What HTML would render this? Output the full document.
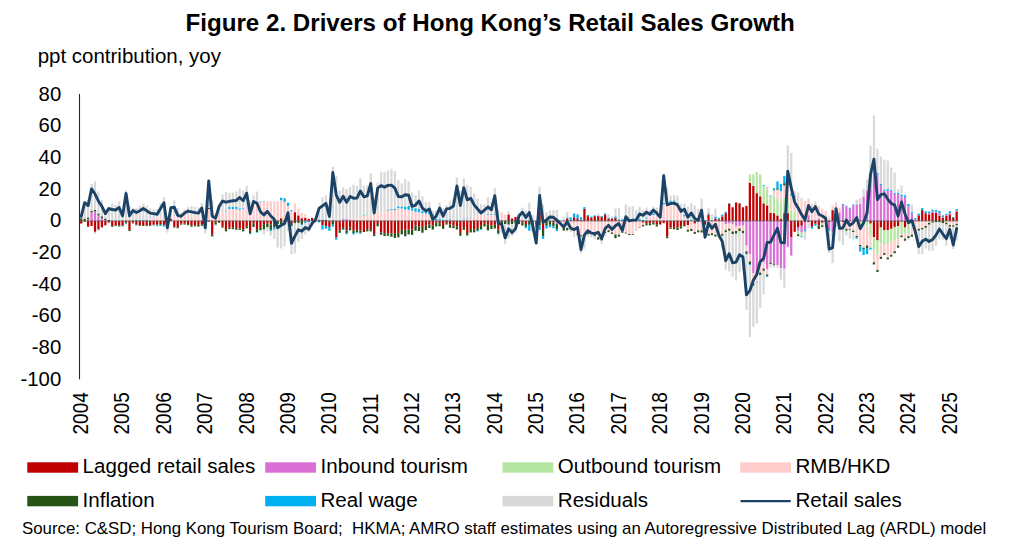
<!DOCTYPE html>
<html><head><meta charset="utf-8"><title>Figure 2</title>
<style>html,body{margin:0;padding:0;background:#fff}svg{display:block}</style></head>
<body>
<svg width="1024" height="549" viewBox="0 0 1024 549" font-family="'Liberation Sans', sans-serif">
<rect width="1024" height="549" fill="#fff"/>
<text transform="translate(490.20,31.30) scale(1.032,1)" font-size="23.4" text-anchor="middle" font-weight="bold" fill="#000">Figure 2. Drivers of Hong Kong’s Retail Sales Growth</text>
<text transform="translate(37.70,63.30) scale(1.056,1)" font-size="19.4" text-anchor="start" font-weight="normal" fill="#000">ppt contribution, yoy</text>
<text transform="translate(61.20,100.62) scale(1.048,1)" font-size="19.4" text-anchor="end" font-weight="normal" fill="#000">80</text>
<text transform="translate(61.20,132.32) scale(1.048,1)" font-size="19.4" text-anchor="end" font-weight="normal" fill="#000">60</text>
<text transform="translate(61.20,164.01) scale(1.048,1)" font-size="19.4" text-anchor="end" font-weight="normal" fill="#000">40</text>
<text transform="translate(61.20,195.71) scale(1.048,1)" font-size="19.4" text-anchor="end" font-weight="normal" fill="#000">20</text>
<text transform="translate(61.20,227.40) scale(1.048,1)" font-size="19.4" text-anchor="end" font-weight="normal" fill="#000">0</text>
<text transform="translate(61.20,259.09) scale(1.048,1)" font-size="19.4" text-anchor="end" font-weight="normal" fill="#000">-20</text>
<text transform="translate(61.20,290.79) scale(1.048,1)" font-size="19.4" text-anchor="end" font-weight="normal" fill="#000">-40</text>
<text transform="translate(61.20,322.48) scale(1.048,1)" font-size="19.4" text-anchor="end" font-weight="normal" fill="#000">-60</text>
<text transform="translate(61.20,354.18) scale(1.048,1)" font-size="19.4" text-anchor="end" font-weight="normal" fill="#000">-80</text>
<text transform="translate(61.20,385.87) scale(1.048,1)" font-size="19.4" text-anchor="end" font-weight="normal" fill="#000">-100</text>
<g shape-rendering="auto"><rect x="80.10" y="220.90" width="2.25" height="2.69" fill="#C00000"/><rect x="80.10" y="218.21" width="2.25" height="2.69" fill="#275317"/><rect x="80.10" y="213.77" width="2.25" height="4.44" fill="#D9D9D9"/><rect x="83.55" y="220.90" width="2.25" height="0.79" fill="#C00000"/><rect x="83.55" y="218.68" width="2.25" height="2.22" fill="#275317"/><rect x="83.55" y="201.88" width="2.25" height="16.80" fill="#D9D9D9"/><rect x="86.99" y="220.90" width="2.25" height="5.86" fill="#C00000"/><rect x="86.99" y="219.32" width="2.25" height="1.58" fill="#DA70D6"/><rect x="86.99" y="217.41" width="2.25" height="1.90" fill="#275317"/><rect x="86.99" y="199.67" width="2.25" height="17.75" fill="#D9D9D9"/><rect x="90.44" y="220.90" width="2.25" height="5.07" fill="#C00000"/><rect x="90.44" y="212.18" width="2.25" height="8.72" fill="#DA70D6"/><rect x="90.44" y="210.76" width="2.25" height="1.43" fill="#275317"/><rect x="90.44" y="183.82" width="2.25" height="26.94" fill="#D9D9D9"/><rect x="93.89" y="220.90" width="2.25" height="10.93" fill="#C00000"/><rect x="93.89" y="211.39" width="2.25" height="9.51" fill="#DA70D6"/><rect x="93.89" y="231.83" width="2.25" height="1.74" fill="#B4E5A2"/><rect x="93.89" y="209.97" width="2.25" height="1.43" fill="#275317"/><rect x="93.89" y="181.28" width="2.25" height="28.68" fill="#D9D9D9"/><rect x="97.33" y="220.90" width="2.25" height="8.72" fill="#C00000"/><rect x="97.33" y="215.35" width="2.25" height="5.55" fill="#DA70D6"/><rect x="97.33" y="229.62" width="2.25" height="1.11" fill="#B4E5A2"/><rect x="97.33" y="213.45" width="2.25" height="1.90" fill="#275317"/><rect x="97.33" y="191.42" width="2.25" height="22.03" fill="#D9D9D9"/><rect x="100.78" y="220.90" width="2.25" height="6.50" fill="#C00000"/><rect x="100.78" y="218.05" width="2.25" height="2.85" fill="#DA70D6"/><rect x="100.78" y="216.30" width="2.25" height="1.74" fill="#275317"/><rect x="100.78" y="199.82" width="2.25" height="16.48" fill="#D9D9D9"/><rect x="104.22" y="220.90" width="2.25" height="4.44" fill="#C00000"/><rect x="104.22" y="220.11" width="2.25" height="0.79" fill="#DA70D6"/><rect x="104.22" y="218.52" width="2.25" height="1.58" fill="#275317"/><rect x="104.22" y="209.17" width="2.25" height="9.35" fill="#D9D9D9"/><rect x="107.67" y="220.90" width="2.25" height="1.74" fill="#C00000"/><rect x="107.67" y="219.95" width="2.25" height="0.95" fill="#275317"/><rect x="107.67" y="206.80" width="2.25" height="13.15" fill="#D9D9D9"/><rect x="111.12" y="220.90" width="2.25" height="5.07" fill="#C00000"/><rect x="111.12" y="225.97" width="2.25" height="0.79" fill="#275317"/><rect x="111.12" y="203.63" width="2.25" height="17.27" fill="#D9D9D9"/><rect x="114.56" y="220.90" width="2.25" height="4.44" fill="#C00000"/><rect x="114.56" y="225.34" width="2.25" height="0.79" fill="#275317"/><rect x="114.56" y="204.74" width="2.25" height="16.16" fill="#D9D9D9"/><rect x="118.01" y="220.90" width="2.25" height="4.60" fill="#C00000"/><rect x="118.01" y="225.50" width="2.25" height="0.79" fill="#275317"/><rect x="118.01" y="226.29" width="2.25" height="0.63" fill="#00B0F0"/><rect x="118.01" y="201.41" width="2.25" height="19.49" fill="#D9D9D9"/><rect x="121.46" y="220.90" width="2.25" height="4.60" fill="#C00000"/><rect x="121.46" y="225.50" width="2.25" height="0.79" fill="#275317"/><rect x="121.46" y="210.44" width="2.25" height="10.46" fill="#D9D9D9"/><rect x="124.91" y="220.90" width="2.25" height="1.43" fill="#C00000"/><rect x="124.91" y="222.33" width="2.25" height="0.79" fill="#275317"/><rect x="124.91" y="223.12" width="2.25" height="0.79" fill="#00B0F0"/><rect x="124.91" y="190.47" width="2.25" height="30.43" fill="#D9D9D9"/><rect x="128.35" y="220.90" width="2.25" height="9.03" fill="#C00000"/><rect x="128.35" y="229.93" width="2.25" height="1.11" fill="#275317"/><rect x="128.35" y="205.69" width="2.25" height="15.21" fill="#D9D9D9"/><rect x="131.80" y="220.90" width="2.25" height="1.74" fill="#C00000"/><rect x="131.80" y="222.64" width="2.25" height="0.79" fill="#275317"/><rect x="131.80" y="207.91" width="2.25" height="12.99" fill="#D9D9D9"/><rect x="135.25" y="220.90" width="2.25" height="3.64" fill="#C00000"/><rect x="135.25" y="224.54" width="2.25" height="0.79" fill="#275317"/><rect x="135.25" y="220.11" width="2.25" height="0.79" fill="#00B0F0"/><rect x="135.25" y="208.06" width="2.25" height="12.04" fill="#D9D9D9"/><rect x="138.69" y="220.90" width="2.25" height="4.12" fill="#C00000"/><rect x="138.69" y="225.02" width="2.25" height="0.79" fill="#275317"/><rect x="138.69" y="220.11" width="2.25" height="0.79" fill="#00B0F0"/><rect x="138.69" y="205.85" width="2.25" height="14.26" fill="#D9D9D9"/><rect x="142.14" y="220.90" width="2.25" height="4.12" fill="#C00000"/><rect x="142.14" y="225.02" width="2.25" height="0.95" fill="#275317"/><rect x="142.14" y="220.27" width="2.25" height="0.63" fill="#00B0F0"/><rect x="142.14" y="203.47" width="2.25" height="16.80" fill="#D9D9D9"/><rect x="145.59" y="220.90" width="2.25" height="4.44" fill="#C00000"/><rect x="145.59" y="225.34" width="2.25" height="0.79" fill="#275317"/><rect x="145.59" y="220.27" width="2.25" height="0.63" fill="#00B0F0"/><rect x="145.59" y="205.53" width="2.25" height="14.74" fill="#D9D9D9"/><rect x="149.03" y="220.90" width="2.25" height="4.12" fill="#C00000"/><rect x="149.03" y="217.26" width="2.25" height="3.64" fill="#FFCCCC"/><rect x="149.03" y="225.02" width="2.25" height="0.79" fill="#275317"/><rect x="149.03" y="216.62" width="2.25" height="0.63" fill="#00B0F0"/><rect x="149.03" y="208.22" width="2.25" height="8.40" fill="#D9D9D9"/><rect x="152.48" y="220.90" width="2.25" height="3.64" fill="#C00000"/><rect x="152.48" y="217.26" width="2.25" height="3.64" fill="#FFCCCC"/><rect x="152.48" y="224.54" width="2.25" height="0.79" fill="#275317"/><rect x="152.48" y="216.78" width="2.25" height="0.48" fill="#00B0F0"/><rect x="152.48" y="209.17" width="2.25" height="7.61" fill="#D9D9D9"/><rect x="155.93" y="220.90" width="2.25" height="3.64" fill="#C00000"/><rect x="155.93" y="216.94" width="2.25" height="3.96" fill="#FFCCCC"/><rect x="155.93" y="224.54" width="2.25" height="0.79" fill="#275317"/><rect x="155.93" y="225.34" width="2.25" height="0.79" fill="#00B0F0"/><rect x="155.93" y="209.17" width="2.25" height="7.77" fill="#D9D9D9"/><rect x="159.37" y="220.90" width="2.25" height="3.17" fill="#C00000"/><rect x="159.37" y="216.94" width="2.25" height="3.96" fill="#FFCCCC"/><rect x="159.37" y="224.07" width="2.25" height="0.79" fill="#275317"/><rect x="159.37" y="224.86" width="2.25" height="1.11" fill="#00B0F0"/><rect x="159.37" y="203.47" width="2.25" height="13.47" fill="#D9D9D9"/><rect x="162.82" y="220.90" width="2.25" height="3.96" fill="#C00000"/><rect x="162.82" y="216.94" width="2.25" height="3.96" fill="#FFCCCC"/><rect x="162.82" y="224.86" width="2.25" height="0.79" fill="#275317"/><rect x="162.82" y="225.65" width="2.25" height="0.95" fill="#00B0F0"/><rect x="162.82" y="196.97" width="2.25" height="19.97" fill="#D9D9D9"/><rect x="166.26" y="219.32" width="2.25" height="1.58" fill="#C00000"/><rect x="166.26" y="216.15" width="2.25" height="3.17" fill="#FFCCCC"/><rect x="166.26" y="220.90" width="2.25" height="0.79" fill="#275317"/><rect x="166.26" y="221.69" width="2.25" height="10.93" fill="#D9D9D9"/><rect x="169.71" y="218.68" width="2.25" height="2.22" fill="#C00000"/><rect x="169.71" y="213.93" width="2.25" height="4.75" fill="#FFCCCC"/><rect x="169.71" y="207.75" width="2.25" height="6.18" fill="#D9D9D9"/><rect x="173.16" y="220.90" width="2.25" height="5.86" fill="#C00000"/><rect x="173.16" y="216.15" width="2.25" height="4.75" fill="#FFCCCC"/><rect x="173.16" y="226.76" width="2.25" height="0.79" fill="#275317"/><rect x="173.16" y="200.46" width="2.25" height="15.69" fill="#D9D9D9"/><rect x="176.61" y="220.90" width="2.25" height="6.50" fill="#C00000"/><rect x="176.61" y="216.15" width="2.25" height="4.75" fill="#FFCCCC"/><rect x="176.61" y="227.40" width="2.25" height="0.95" fill="#275317"/><rect x="176.61" y="207.91" width="2.25" height="8.24" fill="#D9D9D9"/><rect x="180.05" y="220.90" width="2.25" height="2.85" fill="#C00000"/><rect x="180.05" y="216.15" width="2.25" height="4.75" fill="#FFCCCC"/><rect x="180.05" y="223.75" width="2.25" height="0.95" fill="#275317"/><rect x="180.05" y="212.50" width="2.25" height="3.64" fill="#D9D9D9"/><rect x="183.50" y="220.90" width="2.25" height="2.69" fill="#C00000"/><rect x="183.50" y="214.56" width="2.25" height="6.34" fill="#FFCCCC"/><rect x="183.50" y="223.59" width="2.25" height="0.95" fill="#275317"/><rect x="183.50" y="209.33" width="2.25" height="5.23" fill="#D9D9D9"/><rect x="186.94" y="220.90" width="2.25" height="3.17" fill="#C00000"/><rect x="186.94" y="214.56" width="2.25" height="6.34" fill="#FFCCCC"/><rect x="186.94" y="224.07" width="2.25" height="1.11" fill="#275317"/><rect x="186.94" y="206.80" width="2.25" height="7.77" fill="#D9D9D9"/><rect x="190.39" y="220.90" width="2.25" height="4.44" fill="#C00000"/><rect x="190.39" y="216.94" width="2.25" height="3.96" fill="#FFCCCC"/><rect x="190.39" y="225.34" width="2.25" height="1.43" fill="#275317"/><rect x="190.39" y="206.00" width="2.25" height="10.93" fill="#D9D9D9"/><rect x="193.84" y="220.90" width="2.25" height="4.44" fill="#C00000"/><rect x="193.84" y="216.94" width="2.25" height="3.96" fill="#FFCCCC"/><rect x="193.84" y="225.34" width="2.25" height="1.11" fill="#275317"/><rect x="193.84" y="207.11" width="2.25" height="9.83" fill="#D9D9D9"/><rect x="197.28" y="220.90" width="2.25" height="3.96" fill="#C00000"/><rect x="197.28" y="216.15" width="2.25" height="4.75" fill="#FFCCCC"/><rect x="197.28" y="224.86" width="2.25" height="1.74" fill="#275317"/><rect x="197.28" y="207.43" width="2.25" height="8.72" fill="#D9D9D9"/><rect x="200.73" y="220.90" width="2.25" height="3.33" fill="#C00000"/><rect x="200.73" y="216.15" width="2.25" height="4.75" fill="#FFCCCC"/><rect x="200.73" y="224.23" width="2.25" height="1.58" fill="#275317"/><rect x="200.73" y="202.99" width="2.25" height="13.15" fill="#D9D9D9"/><rect x="204.18" y="220.90" width="2.25" height="0.48" fill="#C00000"/><rect x="204.18" y="215.35" width="2.25" height="5.55" fill="#FFCCCC"/><rect x="204.18" y="221.38" width="2.25" height="0.79" fill="#275317"/><rect x="204.18" y="222.17" width="2.25" height="11.09" fill="#D9D9D9"/><rect x="207.62" y="220.90" width="2.25" height="0.79" fill="#C00000"/><rect x="207.62" y="220.11" width="2.25" height="0.79" fill="#DA70D6"/><rect x="207.62" y="209.01" width="2.25" height="11.09" fill="#FFCCCC"/><rect x="207.62" y="207.75" width="2.25" height="1.27" fill="#275317"/><rect x="207.62" y="180.17" width="2.25" height="27.57" fill="#D9D9D9"/><rect x="211.07" y="220.90" width="2.25" height="13.31" fill="#C00000"/><rect x="211.07" y="211.39" width="2.25" height="9.51" fill="#FFCCCC"/><rect x="211.07" y="234.21" width="2.25" height="2.22" fill="#275317"/><rect x="211.07" y="200.46" width="2.25" height="10.93" fill="#D9D9D9"/><rect x="214.52" y="220.90" width="2.25" height="1.90" fill="#C00000"/><rect x="214.52" y="212.98" width="2.25" height="7.92" fill="#FFCCCC"/><rect x="214.52" y="222.80" width="2.25" height="1.90" fill="#275317"/><rect x="214.52" y="224.70" width="2.25" height="1.43" fill="#D9D9D9"/><rect x="217.97" y="211.39" width="2.25" height="9.51" fill="#FFCCCC"/><rect x="217.97" y="220.90" width="2.25" height="1.90" fill="#275317"/><rect x="217.97" y="204.58" width="2.25" height="6.81" fill="#D9D9D9"/><rect x="221.41" y="220.90" width="2.25" height="5.70" fill="#C00000"/><rect x="221.41" y="211.39" width="2.25" height="9.51" fill="#FFCCCC"/><rect x="221.41" y="226.60" width="2.25" height="1.11" fill="#275317"/><rect x="221.41" y="194.28" width="2.25" height="17.11" fill="#D9D9D9"/><rect x="224.86" y="220.90" width="2.25" height="8.24" fill="#C00000"/><rect x="224.86" y="211.39" width="2.25" height="9.51" fill="#FFCCCC"/><rect x="224.86" y="229.14" width="2.25" height="2.22" fill="#275317"/><rect x="224.86" y="210.76" width="2.25" height="0.63" fill="#00B0F0"/><rect x="224.86" y="191.74" width="2.25" height="19.02" fill="#D9D9D9"/><rect x="228.31" y="220.90" width="2.25" height="6.81" fill="#C00000"/><rect x="228.31" y="209.01" width="2.25" height="11.89" fill="#FFCCCC"/><rect x="228.31" y="227.71" width="2.25" height="1.43" fill="#275317"/><rect x="228.31" y="206.95" width="2.25" height="2.06" fill="#00B0F0"/><rect x="228.31" y="193.17" width="2.25" height="13.79" fill="#D9D9D9"/><rect x="231.75" y="220.90" width="2.25" height="6.81" fill="#C00000"/><rect x="231.75" y="209.01" width="2.25" height="11.89" fill="#FFCCCC"/><rect x="231.75" y="227.71" width="2.25" height="1.43" fill="#275317"/><rect x="231.75" y="206.95" width="2.25" height="2.06" fill="#00B0F0"/><rect x="231.75" y="192.53" width="2.25" height="14.42" fill="#D9D9D9"/><rect x="235.20" y="220.90" width="2.25" height="7.13" fill="#C00000"/><rect x="235.20" y="209.01" width="2.25" height="11.89" fill="#FFCCCC"/><rect x="235.20" y="228.03" width="2.25" height="1.74" fill="#275317"/><rect x="235.20" y="206.64" width="2.25" height="2.38" fill="#00B0F0"/><rect x="235.20" y="191.58" width="2.25" height="15.05" fill="#D9D9D9"/><rect x="238.65" y="220.90" width="2.25" height="7.45" fill="#C00000"/><rect x="238.65" y="209.81" width="2.25" height="11.09" fill="#FFCCCC"/><rect x="238.65" y="228.35" width="2.25" height="1.58" fill="#275317"/><rect x="238.65" y="208.38" width="2.25" height="1.43" fill="#00B0F0"/><rect x="238.65" y="188.41" width="2.25" height="19.97" fill="#D9D9D9"/><rect x="242.09" y="220.90" width="2.25" height="8.24" fill="#C00000"/><rect x="242.09" y="209.01" width="2.25" height="11.89" fill="#FFCCCC"/><rect x="242.09" y="229.14" width="2.25" height="2.22" fill="#275317"/><rect x="242.09" y="208.22" width="2.25" height="0.79" fill="#00B0F0"/><rect x="242.09" y="190.32" width="2.25" height="17.91" fill="#D9D9D9"/><rect x="245.54" y="220.90" width="2.25" height="5.23" fill="#C00000"/><rect x="245.54" y="208.22" width="2.25" height="12.68" fill="#FFCCCC"/><rect x="245.54" y="226.13" width="2.25" height="2.22" fill="#275317"/><rect x="245.54" y="185.72" width="2.25" height="22.50" fill="#D9D9D9"/><rect x="248.99" y="220.90" width="2.25" height="9.98" fill="#C00000"/><rect x="248.99" y="205.05" width="2.25" height="15.85" fill="#FFCCCC"/><rect x="248.99" y="230.88" width="2.25" height="2.22" fill="#275317"/><rect x="248.99" y="233.10" width="2.25" height="1.11" fill="#00B0F0"/><rect x="248.99" y="200.46" width="2.25" height="4.60" fill="#D9D9D9"/><rect x="252.43" y="220.90" width="2.25" height="2.38" fill="#C00000"/><rect x="252.43" y="205.05" width="2.25" height="15.85" fill="#FFCCCC"/><rect x="252.43" y="223.28" width="2.25" height="3.64" fill="#275317"/><rect x="252.43" y="195.39" width="2.25" height="9.67" fill="#D9D9D9"/><rect x="255.88" y="220.90" width="2.25" height="8.24" fill="#C00000"/><rect x="255.88" y="203.47" width="2.25" height="17.43" fill="#FFCCCC"/><rect x="255.88" y="229.14" width="2.25" height="2.85" fill="#275317"/><rect x="255.88" y="231.99" width="2.25" height="0.63" fill="#00B0F0"/><rect x="255.88" y="191.58" width="2.25" height="11.89" fill="#D9D9D9"/><rect x="259.33" y="220.90" width="2.25" height="6.81" fill="#C00000"/><rect x="259.33" y="201.57" width="2.25" height="19.33" fill="#FFCCCC"/><rect x="259.33" y="227.71" width="2.25" height="2.54" fill="#275317"/><rect x="259.33" y="201.09" width="2.25" height="0.48" fill="#00B0F0"/><rect x="259.33" y="230.25" width="2.25" height="1.27" fill="#D9D9D9"/><rect x="262.77" y="220.90" width="2.25" height="3.17" fill="#C00000"/><rect x="262.77" y="201.88" width="2.25" height="19.02" fill="#FFCCCC"/><rect x="262.77" y="224.07" width="2.25" height="5.55" fill="#275317"/><rect x="262.77" y="201.41" width="2.25" height="0.48" fill="#00B0F0"/><rect x="262.77" y="229.62" width="2.25" height="4.91" fill="#D9D9D9"/><rect x="266.22" y="220.90" width="2.25" height="2.69" fill="#C00000"/><rect x="266.22" y="201.25" width="2.25" height="19.65" fill="#FFCCCC"/><rect x="266.22" y="223.59" width="2.25" height="3.80" fill="#275317"/><rect x="266.22" y="227.40" width="2.25" height="3.49" fill="#D9D9D9"/><rect x="269.66" y="220.90" width="2.25" height="3.49" fill="#C00000"/><rect x="269.66" y="201.25" width="2.25" height="19.65" fill="#FFCCCC"/><rect x="269.66" y="224.39" width="2.25" height="5.39" fill="#275317"/><rect x="269.66" y="229.77" width="2.25" height="1.58" fill="#00B0F0"/><rect x="269.66" y="231.36" width="2.25" height="4.28" fill="#D9D9D9"/><rect x="273.11" y="201.25" width="2.25" height="19.65" fill="#FFCCCC"/><rect x="273.11" y="220.90" width="2.25" height="6.66" fill="#275317"/><rect x="273.11" y="227.56" width="2.25" height="2.22" fill="#00B0F0"/><rect x="273.11" y="229.77" width="2.25" height="9.19" fill="#D9D9D9"/><rect x="276.56" y="201.25" width="2.25" height="19.65" fill="#FFCCCC"/><rect x="276.56" y="220.90" width="2.25" height="3.17" fill="#275317"/><rect x="276.56" y="224.07" width="2.25" height="23.30" fill="#D9D9D9"/><rect x="280.00" y="218.21" width="2.25" height="2.69" fill="#C00000"/><rect x="280.00" y="200.30" width="2.25" height="17.91" fill="#FFCCCC"/><rect x="280.00" y="220.90" width="2.25" height="3.17" fill="#275317"/><rect x="280.00" y="197.76" width="2.25" height="2.54" fill="#00B0F0"/><rect x="280.00" y="224.07" width="2.25" height="24.40" fill="#D9D9D9"/><rect x="283.45" y="201.88" width="2.25" height="19.02" fill="#FFCCCC"/><rect x="283.45" y="220.90" width="2.25" height="3.17" fill="#275317"/><rect x="283.45" y="198.24" width="2.25" height="3.64" fill="#00B0F0"/><rect x="283.45" y="224.07" width="2.25" height="22.03" fill="#D9D9D9"/><rect x="286.90" y="205.85" width="2.25" height="15.05" fill="#FFCCCC"/><rect x="286.90" y="220.90" width="2.25" height="0.79" fill="#275317"/><rect x="286.90" y="202.68" width="2.25" height="3.17" fill="#00B0F0"/><rect x="286.90" y="221.69" width="2.25" height="9.19" fill="#D9D9D9"/><rect x="290.35" y="220.90" width="2.25" height="3.17" fill="#C00000"/><rect x="290.35" y="211.39" width="2.25" height="9.51" fill="#FFCCCC"/><rect x="290.35" y="224.07" width="2.25" height="2.22" fill="#275317"/><rect x="290.35" y="210.12" width="2.25" height="1.27" fill="#00B0F0"/><rect x="290.35" y="226.29" width="2.25" height="27.89" fill="#D9D9D9"/><rect x="293.79" y="212.18" width="2.25" height="8.72" fill="#C00000"/><rect x="293.79" y="203.63" width="2.25" height="8.56" fill="#FFCCCC"/><rect x="293.79" y="220.90" width="2.25" height="2.38" fill="#275317"/><rect x="293.79" y="223.28" width="2.25" height="30.11" fill="#D9D9D9"/><rect x="297.24" y="215.35" width="2.25" height="5.55" fill="#C00000"/><rect x="297.24" y="208.70" width="2.25" height="6.66" fill="#FFCCCC"/><rect x="297.24" y="220.90" width="2.25" height="2.06" fill="#275317"/><rect x="297.24" y="222.96" width="2.25" height="19.02" fill="#D9D9D9"/><rect x="300.69" y="218.21" width="2.25" height="2.69" fill="#C00000"/><rect x="300.69" y="217.57" width="2.25" height="0.63" fill="#DA70D6"/><rect x="300.69" y="213.13" width="2.25" height="4.44" fill="#FFCCCC"/><rect x="300.69" y="220.90" width="2.25" height="3.17" fill="#275317"/><rect x="300.69" y="224.07" width="2.25" height="1.27" fill="#00B0F0"/><rect x="300.69" y="225.34" width="2.25" height="13.63" fill="#D9D9D9"/><rect x="304.13" y="217.73" width="2.25" height="3.17" fill="#C00000"/><rect x="304.13" y="220.90" width="2.25" height="0.48" fill="#DA70D6"/><rect x="304.13" y="214.09" width="2.25" height="3.64" fill="#FFCCCC"/><rect x="304.13" y="221.38" width="2.25" height="1.90" fill="#00B0F0"/><rect x="304.13" y="223.28" width="2.25" height="11.09" fill="#D9D9D9"/><rect x="307.58" y="219.00" width="2.25" height="1.90" fill="#C00000"/><rect x="307.58" y="218.21" width="2.25" height="0.79" fill="#FFCCCC"/><rect x="307.58" y="220.90" width="2.25" height="1.58" fill="#00B0F0"/><rect x="307.58" y="222.48" width="2.25" height="9.51" fill="#D9D9D9"/><rect x="311.02" y="217.89" width="2.25" height="3.01" fill="#C00000"/><rect x="311.02" y="220.90" width="2.25" height="5.39" fill="#D9D9D9"/><rect x="314.47" y="220.90" width="2.25" height="0.48" fill="#C00000"/><rect x="314.47" y="219.16" width="2.25" height="1.74" fill="#D9D9D9"/><rect x="317.92" y="219.63" width="2.25" height="1.27" fill="#275317"/><rect x="317.92" y="220.90" width="2.25" height="1.58" fill="#00B0F0"/><rect x="317.92" y="206.80" width="2.25" height="12.84" fill="#D9D9D9"/><rect x="321.37" y="220.90" width="2.25" height="4.28" fill="#C00000"/><rect x="321.37" y="219.63" width="2.25" height="1.27" fill="#275317"/><rect x="321.37" y="225.18" width="2.25" height="4.28" fill="#00B0F0"/><rect x="321.37" y="197.29" width="2.25" height="22.34" fill="#D9D9D9"/><rect x="324.81" y="220.90" width="2.25" height="5.07" fill="#C00000"/><rect x="324.81" y="219.63" width="2.25" height="1.27" fill="#275317"/><rect x="324.81" y="225.97" width="2.25" height="2.85" fill="#00B0F0"/><rect x="324.81" y="195.39" width="2.25" height="24.25" fill="#D9D9D9"/><rect x="328.26" y="220.90" width="2.25" height="6.02" fill="#C00000"/><rect x="328.26" y="226.92" width="2.25" height="3.96" fill="#00B0F0"/><rect x="328.26" y="206.48" width="2.25" height="14.42" fill="#D9D9D9"/><rect x="331.71" y="219.79" width="2.25" height="1.11" fill="#DA70D6"/><rect x="331.71" y="220.90" width="2.25" height="3.80" fill="#275317"/><rect x="331.71" y="224.70" width="2.25" height="1.90" fill="#00B0F0"/><rect x="331.71" y="166.86" width="2.25" height="52.93" fill="#D9D9D9"/><rect x="335.15" y="220.90" width="2.25" height="16.64" fill="#C00000"/><rect x="335.15" y="237.54" width="2.25" height="2.06" fill="#00B0F0"/><rect x="335.15" y="176.37" width="2.25" height="44.53" fill="#D9D9D9"/><rect x="338.60" y="220.90" width="2.25" height="9.67" fill="#C00000"/><rect x="338.60" y="230.57" width="2.25" height="2.22" fill="#275317"/><rect x="338.60" y="190.47" width="2.25" height="30.43" fill="#D9D9D9"/><rect x="342.05" y="220.90" width="2.25" height="6.97" fill="#C00000"/><rect x="342.05" y="219.00" width="2.25" height="1.90" fill="#DA70D6"/><rect x="342.05" y="227.87" width="2.25" height="1.27" fill="#275317"/><rect x="342.05" y="229.14" width="2.25" height="0.95" fill="#00B0F0"/><rect x="342.05" y="187.15" width="2.25" height="31.85" fill="#D9D9D9"/><rect x="345.49" y="220.90" width="2.25" height="9.67" fill="#C00000"/><rect x="345.49" y="218.84" width="2.25" height="2.06" fill="#DA70D6"/><rect x="345.49" y="230.57" width="2.25" height="2.85" fill="#275317"/><rect x="345.49" y="233.42" width="2.25" height="0.95" fill="#00B0F0"/><rect x="345.49" y="188.89" width="2.25" height="29.95" fill="#D9D9D9"/><rect x="348.94" y="220.90" width="2.25" height="6.66" fill="#C00000"/><rect x="348.94" y="219.47" width="2.25" height="1.43" fill="#DA70D6"/><rect x="348.94" y="218.36" width="2.25" height="1.11" fill="#FFCCCC"/><rect x="348.94" y="227.56" width="2.25" height="2.69" fill="#275317"/><rect x="348.94" y="187.15" width="2.25" height="31.22" fill="#D9D9D9"/><rect x="352.38" y="220.90" width="2.25" height="9.67" fill="#C00000"/><rect x="352.38" y="220.11" width="2.25" height="0.79" fill="#DA70D6"/><rect x="352.38" y="218.21" width="2.25" height="1.90" fill="#FFCCCC"/><rect x="352.38" y="230.57" width="2.25" height="2.69" fill="#275317"/><rect x="352.38" y="233.26" width="2.25" height="1.27" fill="#00B0F0"/><rect x="352.38" y="184.61" width="2.25" height="33.60" fill="#D9D9D9"/><rect x="355.83" y="220.90" width="2.25" height="8.87" fill="#C00000"/><rect x="355.83" y="218.21" width="2.25" height="2.69" fill="#FFCCCC"/><rect x="355.83" y="229.77" width="2.25" height="2.54" fill="#275317"/><rect x="355.83" y="232.31" width="2.25" height="0.95" fill="#00B0F0"/><rect x="355.83" y="185.72" width="2.25" height="32.49" fill="#D9D9D9"/><rect x="359.28" y="220.90" width="2.25" height="9.67" fill="#C00000"/><rect x="359.28" y="217.26" width="2.25" height="3.64" fill="#FFCCCC"/><rect x="359.28" y="230.57" width="2.25" height="2.22" fill="#275317"/><rect x="359.28" y="232.79" width="2.25" height="0.95" fill="#00B0F0"/><rect x="359.28" y="178.11" width="2.25" height="39.14" fill="#D9D9D9"/><rect x="362.73" y="220.90" width="2.25" height="11.09" fill="#C00000"/><rect x="362.73" y="216.15" width="2.25" height="4.75" fill="#FFCCCC"/><rect x="362.73" y="215.35" width="2.25" height="0.79" fill="#00B0F0"/><rect x="362.73" y="185.72" width="2.25" height="29.63" fill="#D9D9D9"/><rect x="366.17" y="220.90" width="2.25" height="8.24" fill="#C00000"/><rect x="366.17" y="215.04" width="2.25" height="5.86" fill="#FFCCCC"/><rect x="366.17" y="229.14" width="2.25" height="2.22" fill="#275317"/><rect x="366.17" y="214.40" width="2.25" height="0.63" fill="#00B0F0"/><rect x="366.17" y="185.40" width="2.25" height="29.00" fill="#D9D9D9"/><rect x="369.62" y="220.90" width="2.25" height="8.24" fill="#C00000"/><rect x="369.62" y="214.56" width="2.25" height="6.34" fill="#FFCCCC"/><rect x="369.62" y="229.14" width="2.25" height="2.22" fill="#275317"/><rect x="369.62" y="173.04" width="2.25" height="41.52" fill="#D9D9D9"/><rect x="373.06" y="220.90" width="2.25" height="13.31" fill="#C00000"/><rect x="373.06" y="214.09" width="2.25" height="6.81" fill="#FFCCCC"/><rect x="373.06" y="234.21" width="2.25" height="1.90" fill="#275317"/><rect x="373.06" y="197.76" width="2.25" height="16.32" fill="#D9D9D9"/><rect x="376.51" y="220.90" width="2.25" height="3.01" fill="#C00000"/><rect x="376.51" y="212.98" width="2.25" height="7.92" fill="#FFCCCC"/><rect x="376.51" y="223.91" width="2.25" height="2.38" fill="#275317"/><rect x="376.51" y="182.71" width="2.25" height="30.27" fill="#D9D9D9"/><rect x="379.96" y="220.90" width="2.25" height="11.57" fill="#C00000"/><rect x="379.96" y="212.18" width="2.25" height="8.72" fill="#FFCCCC"/><rect x="379.96" y="232.47" width="2.25" height="2.38" fill="#275317"/><rect x="379.96" y="171.62" width="2.25" height="40.57" fill="#D9D9D9"/><rect x="383.41" y="220.90" width="2.25" height="12.36" fill="#C00000"/><rect x="383.41" y="211.39" width="2.25" height="9.51" fill="#FFCCCC"/><rect x="383.41" y="233.26" width="2.25" height="2.85" fill="#275317"/><rect x="383.41" y="171.93" width="2.25" height="39.46" fill="#D9D9D9"/><rect x="386.85" y="220.90" width="2.25" height="12.36" fill="#C00000"/><rect x="386.85" y="211.07" width="2.25" height="9.83" fill="#FFCCCC"/><rect x="386.85" y="233.26" width="2.25" height="2.54" fill="#275317"/><rect x="386.85" y="210.28" width="2.25" height="0.79" fill="#00B0F0"/><rect x="386.85" y="170.51" width="2.25" height="39.78" fill="#D9D9D9"/><rect x="390.30" y="220.90" width="2.25" height="12.36" fill="#C00000"/><rect x="390.30" y="210.12" width="2.25" height="10.78" fill="#FFCCCC"/><rect x="390.30" y="233.26" width="2.25" height="3.49" fill="#275317"/><rect x="390.30" y="209.17" width="2.25" height="0.95" fill="#00B0F0"/><rect x="390.30" y="169.40" width="2.25" height="39.78" fill="#D9D9D9"/><rect x="393.75" y="220.90" width="2.25" height="12.99" fill="#C00000"/><rect x="393.75" y="210.12" width="2.25" height="10.78" fill="#FFCCCC"/><rect x="393.75" y="233.89" width="2.25" height="4.12" fill="#275317"/><rect x="393.75" y="208.86" width="2.25" height="1.27" fill="#00B0F0"/><rect x="393.75" y="170.98" width="2.25" height="37.87" fill="#D9D9D9"/><rect x="397.19" y="220.90" width="2.25" height="12.04" fill="#C00000"/><rect x="397.19" y="208.22" width="2.25" height="12.68" fill="#FFCCCC"/><rect x="397.19" y="232.94" width="2.25" height="4.44" fill="#275317"/><rect x="397.19" y="206.32" width="2.25" height="1.90" fill="#00B0F0"/><rect x="397.19" y="180.01" width="2.25" height="26.31" fill="#D9D9D9"/><rect x="400.64" y="220.90" width="2.25" height="9.03" fill="#C00000"/><rect x="400.64" y="208.54" width="2.25" height="12.36" fill="#FFCCCC"/><rect x="400.64" y="229.93" width="2.25" height="4.44" fill="#275317"/><rect x="400.64" y="206.64" width="2.25" height="1.90" fill="#00B0F0"/><rect x="400.64" y="183.34" width="2.25" height="23.30" fill="#D9D9D9"/><rect x="404.09" y="220.90" width="2.25" height="8.72" fill="#C00000"/><rect x="404.09" y="209.49" width="2.25" height="11.41" fill="#FFCCCC"/><rect x="404.09" y="229.62" width="2.25" height="6.66" fill="#275317"/><rect x="404.09" y="206.64" width="2.25" height="2.85" fill="#00B0F0"/><rect x="404.09" y="179.38" width="2.25" height="27.26" fill="#D9D9D9"/><rect x="407.53" y="220.90" width="2.25" height="8.72" fill="#C00000"/><rect x="407.53" y="209.81" width="2.25" height="11.09" fill="#FFCCCC"/><rect x="407.53" y="229.62" width="2.25" height="4.75" fill="#275317"/><rect x="407.53" y="205.85" width="2.25" height="3.96" fill="#00B0F0"/><rect x="407.53" y="181.60" width="2.25" height="24.25" fill="#D9D9D9"/><rect x="410.98" y="220.90" width="2.25" height="8.72" fill="#C00000"/><rect x="410.98" y="210.60" width="2.25" height="10.30" fill="#FFCCCC"/><rect x="410.98" y="229.62" width="2.25" height="5.23" fill="#275317"/><rect x="410.98" y="208.22" width="2.25" height="2.38" fill="#00B0F0"/><rect x="410.98" y="192.53" width="2.25" height="15.69" fill="#D9D9D9"/><rect x="414.43" y="220.90" width="2.25" height="4.75" fill="#C00000"/><rect x="414.43" y="211.87" width="2.25" height="9.03" fill="#FFCCCC"/><rect x="414.43" y="225.65" width="2.25" height="5.07" fill="#275317"/><rect x="414.43" y="208.22" width="2.25" height="3.64" fill="#00B0F0"/><rect x="414.43" y="195.23" width="2.25" height="12.99" fill="#D9D9D9"/><rect x="417.87" y="220.90" width="2.25" height="5.39" fill="#C00000"/><rect x="417.87" y="212.18" width="2.25" height="8.72" fill="#FFCCCC"/><rect x="417.87" y="226.29" width="2.25" height="4.75" fill="#275317"/><rect x="417.87" y="209.01" width="2.25" height="3.17" fill="#00B0F0"/><rect x="417.87" y="190.79" width="2.25" height="18.22" fill="#D9D9D9"/><rect x="421.32" y="220.90" width="2.25" height="7.13" fill="#C00000"/><rect x="421.32" y="213.29" width="2.25" height="7.61" fill="#FFCCCC"/><rect x="421.32" y="228.03" width="2.25" height="4.75" fill="#275317"/><rect x="421.32" y="211.07" width="2.25" height="2.22" fill="#00B0F0"/><rect x="421.32" y="196.34" width="2.25" height="14.74" fill="#D9D9D9"/><rect x="424.76" y="220.90" width="2.25" height="4.75" fill="#C00000"/><rect x="424.76" y="213.61" width="2.25" height="7.29" fill="#FFCCCC"/><rect x="424.76" y="225.65" width="2.25" height="4.44" fill="#275317"/><rect x="424.76" y="211.07" width="2.25" height="2.54" fill="#00B0F0"/><rect x="424.76" y="201.73" width="2.25" height="9.35" fill="#D9D9D9"/><rect x="428.21" y="220.90" width="2.25" height="3.64" fill="#C00000"/><rect x="428.21" y="214.09" width="2.25" height="6.81" fill="#FFCCCC"/><rect x="428.21" y="224.54" width="2.25" height="3.49" fill="#275317"/><rect x="428.21" y="212.03" width="2.25" height="2.06" fill="#00B0F0"/><rect x="428.21" y="201.88" width="2.25" height="10.14" fill="#D9D9D9"/><rect x="431.66" y="220.90" width="2.25" height="4.75" fill="#C00000"/><rect x="431.66" y="216.15" width="2.25" height="4.75" fill="#FFCCCC"/><rect x="431.66" y="225.65" width="2.25" height="3.96" fill="#275317"/><rect x="431.66" y="213.77" width="2.25" height="2.38" fill="#00B0F0"/><rect x="431.66" y="210.76" width="2.25" height="3.01" fill="#D9D9D9"/><rect x="435.11" y="220.90" width="2.25" height="1.43" fill="#C00000"/><rect x="435.11" y="220.11" width="2.25" height="0.79" fill="#FFCCCC"/><rect x="435.11" y="222.33" width="2.25" height="4.12" fill="#275317"/><rect x="435.11" y="218.84" width="2.25" height="1.27" fill="#00B0F0"/><rect x="435.11" y="210.60" width="2.25" height="8.24" fill="#D9D9D9"/><rect x="438.55" y="220.90" width="2.25" height="2.22" fill="#C00000"/><rect x="438.55" y="219.79" width="2.25" height="1.11" fill="#FFCCCC"/><rect x="438.55" y="223.12" width="2.25" height="3.17" fill="#275317"/><rect x="438.55" y="218.52" width="2.25" height="1.27" fill="#00B0F0"/><rect x="438.55" y="202.68" width="2.25" height="15.85" fill="#D9D9D9"/><rect x="442.00" y="220.90" width="2.25" height="5.07" fill="#C00000"/><rect x="442.00" y="225.97" width="2.25" height="2.85" fill="#275317"/><rect x="442.00" y="219.63" width="2.25" height="1.27" fill="#00B0F0"/><rect x="442.00" y="208.22" width="2.25" height="11.41" fill="#D9D9D9"/><rect x="445.44" y="220.90" width="2.25" height="2.22" fill="#C00000"/><rect x="445.44" y="223.12" width="2.25" height="1.43" fill="#275317"/><rect x="445.44" y="219.79" width="2.25" height="1.11" fill="#00B0F0"/><rect x="445.44" y="205.21" width="2.25" height="14.58" fill="#D9D9D9"/><rect x="448.89" y="220.90" width="2.25" height="3.64" fill="#C00000"/><rect x="448.89" y="219.63" width="2.25" height="1.27" fill="#FFCCCC"/><rect x="448.89" y="224.54" width="2.25" height="3.17" fill="#275317"/><rect x="448.89" y="218.68" width="2.25" height="0.95" fill="#00B0F0"/><rect x="448.89" y="201.57" width="2.25" height="17.11" fill="#D9D9D9"/><rect x="452.34" y="220.90" width="2.25" height="4.75" fill="#C00000"/><rect x="452.34" y="219.63" width="2.25" height="1.27" fill="#FFCCCC"/><rect x="452.34" y="225.65" width="2.25" height="2.54" fill="#275317"/><rect x="452.34" y="198.71" width="2.25" height="20.92" fill="#D9D9D9"/><rect x="455.79" y="220.90" width="2.25" height="5.39" fill="#C00000"/><rect x="455.79" y="219.32" width="2.25" height="1.58" fill="#FFCCCC"/><rect x="455.79" y="226.29" width="2.25" height="3.17" fill="#275317"/><rect x="455.79" y="218.84" width="2.25" height="0.48" fill="#00B0F0"/><rect x="455.79" y="177.48" width="2.25" height="41.36" fill="#D9D9D9"/><rect x="459.23" y="220.90" width="2.25" height="12.04" fill="#C00000"/><rect x="459.23" y="219.63" width="2.25" height="1.27" fill="#FFCCCC"/><rect x="459.23" y="232.94" width="2.25" height="2.85" fill="#275317"/><rect x="459.23" y="190.63" width="2.25" height="29.00" fill="#D9D9D9"/><rect x="462.68" y="220.90" width="2.25" height="6.18" fill="#C00000"/><rect x="462.68" y="219.32" width="2.25" height="1.58" fill="#FFCCCC"/><rect x="462.68" y="227.08" width="2.25" height="2.85" fill="#275317"/><rect x="462.68" y="218.52" width="2.25" height="0.79" fill="#00B0F0"/><rect x="462.68" y="178.59" width="2.25" height="39.93" fill="#D9D9D9"/><rect x="466.12" y="220.90" width="2.25" height="12.04" fill="#C00000"/><rect x="466.12" y="218.52" width="2.25" height="2.38" fill="#FFCCCC"/><rect x="466.12" y="232.94" width="2.25" height="2.54" fill="#275317"/><rect x="466.12" y="217.89" width="2.25" height="0.63" fill="#00B0F0"/><rect x="466.12" y="185.24" width="2.25" height="32.64" fill="#D9D9D9"/><rect x="469.57" y="220.90" width="2.25" height="8.08" fill="#C00000"/><rect x="469.57" y="217.73" width="2.25" height="3.17" fill="#FFCCCC"/><rect x="469.57" y="228.98" width="2.25" height="3.49" fill="#275317"/><rect x="469.57" y="217.26" width="2.25" height="0.48" fill="#00B0F0"/><rect x="469.57" y="186.67" width="2.25" height="30.58" fill="#D9D9D9"/><rect x="473.02" y="220.90" width="2.25" height="8.72" fill="#C00000"/><rect x="473.02" y="216.78" width="2.25" height="4.12" fill="#FFCCCC"/><rect x="473.02" y="229.62" width="2.25" height="2.69" fill="#275317"/><rect x="473.02" y="193.48" width="2.25" height="23.30" fill="#D9D9D9"/><rect x="476.47" y="220.90" width="2.25" height="7.13" fill="#C00000"/><rect x="476.47" y="216.15" width="2.25" height="4.75" fill="#FFCCCC"/><rect x="476.47" y="228.03" width="2.25" height="2.69" fill="#275317"/><rect x="476.47" y="230.73" width="2.25" height="0.79" fill="#00B0F0"/><rect x="476.47" y="198.40" width="2.25" height="17.75" fill="#D9D9D9"/><rect x="479.91" y="220.90" width="2.25" height="4.75" fill="#C00000"/><rect x="479.91" y="215.20" width="2.25" height="5.70" fill="#FFCCCC"/><rect x="479.91" y="225.65" width="2.25" height="3.33" fill="#275317"/><rect x="479.91" y="228.98" width="2.25" height="0.79" fill="#00B0F0"/><rect x="479.91" y="204.10" width="2.25" height="11.09" fill="#D9D9D9"/><rect x="483.36" y="220.90" width="2.25" height="2.85" fill="#C00000"/><rect x="483.36" y="214.88" width="2.25" height="6.02" fill="#FFCCCC"/><rect x="483.36" y="223.75" width="2.25" height="2.69" fill="#275317"/><rect x="483.36" y="204.58" width="2.25" height="10.30" fill="#D9D9D9"/><rect x="486.81" y="220.90" width="2.25" height="3.96" fill="#C00000"/><rect x="486.81" y="215.04" width="2.25" height="5.86" fill="#FFCCCC"/><rect x="486.81" y="224.86" width="2.25" height="5.55" fill="#275317"/><rect x="486.81" y="214.24" width="2.25" height="0.79" fill="#00B0F0"/><rect x="486.81" y="197.45" width="2.25" height="16.80" fill="#D9D9D9"/><rect x="490.25" y="220.90" width="2.25" height="4.75" fill="#C00000"/><rect x="490.25" y="215.04" width="2.25" height="5.86" fill="#FFCCCC"/><rect x="490.25" y="225.65" width="2.25" height="3.33" fill="#275317"/><rect x="490.25" y="214.24" width="2.25" height="0.79" fill="#00B0F0"/><rect x="490.25" y="201.73" width="2.25" height="12.52" fill="#D9D9D9"/><rect x="493.70" y="220.90" width="2.25" height="3.96" fill="#C00000"/><rect x="493.70" y="214.56" width="2.25" height="6.34" fill="#FFCCCC"/><rect x="493.70" y="224.86" width="2.25" height="3.64" fill="#275317"/><rect x="493.70" y="213.93" width="2.25" height="0.63" fill="#00B0F0"/><rect x="493.70" y="188.10" width="2.25" height="25.83" fill="#D9D9D9"/><rect x="497.15" y="220.90" width="2.25" height="8.72" fill="#C00000"/><rect x="497.15" y="229.62" width="2.25" height="3.96" fill="#275317"/><rect x="497.15" y="233.58" width="2.25" height="0.79" fill="#00B0F0"/><rect x="497.15" y="209.97" width="2.25" height="10.93" fill="#D9D9D9"/><rect x="500.59" y="219.95" width="2.25" height="0.95" fill="#DA70D6"/><rect x="500.59" y="212.18" width="2.25" height="7.77" fill="#FFCCCC"/><rect x="500.59" y="220.90" width="2.25" height="3.49" fill="#275317"/><rect x="500.59" y="224.39" width="2.25" height="8.56" fill="#D9D9D9"/><rect x="504.04" y="214.56" width="2.25" height="6.34" fill="#FFCCCC"/><rect x="504.04" y="220.90" width="2.25" height="3.17" fill="#275317"/><rect x="504.04" y="224.07" width="2.25" height="20.13" fill="#D9D9D9"/><rect x="507.49" y="214.40" width="2.25" height="6.50" fill="#C00000"/><rect x="507.49" y="211.23" width="2.25" height="3.17" fill="#FFCCCC"/><rect x="507.49" y="220.90" width="2.25" height="3.80" fill="#275317"/><rect x="507.49" y="224.70" width="2.25" height="13.79" fill="#D9D9D9"/><rect x="510.93" y="218.36" width="2.25" height="2.54" fill="#C00000"/><rect x="510.93" y="217.57" width="2.25" height="0.79" fill="#FFCCCC"/><rect x="510.93" y="220.90" width="2.25" height="3.17" fill="#275317"/><rect x="510.93" y="224.07" width="2.25" height="11.89" fill="#D9D9D9"/><rect x="514.38" y="216.94" width="2.25" height="3.96" fill="#C00000"/><rect x="514.38" y="220.90" width="2.25" height="2.85" fill="#275317"/><rect x="514.38" y="223.75" width="2.25" height="8.87" fill="#D9D9D9"/><rect x="517.83" y="219.95" width="2.25" height="0.95" fill="#C00000"/><rect x="517.83" y="220.90" width="2.25" height="3.17" fill="#275317"/><rect x="517.83" y="212.82" width="2.25" height="7.13" fill="#D9D9D9"/><rect x="521.27" y="220.90" width="2.25" height="1.74" fill="#C00000"/><rect x="521.27" y="222.64" width="2.25" height="2.85" fill="#275317"/><rect x="521.27" y="207.59" width="2.25" height="13.31" fill="#D9D9D9"/><rect x="524.72" y="220.90" width="2.25" height="3.17" fill="#C00000"/><rect x="524.72" y="224.07" width="2.25" height="2.69" fill="#275317"/><rect x="524.72" y="226.76" width="2.25" height="1.43" fill="#00B0F0"/><rect x="524.72" y="210.28" width="2.25" height="10.62" fill="#D9D9D9"/><rect x="528.16" y="220.90" width="2.25" height="3.96" fill="#275317"/><rect x="528.16" y="224.86" width="2.25" height="5.86" fill="#00B0F0"/><rect x="528.16" y="202.68" width="2.25" height="18.22" fill="#D9D9D9"/><rect x="531.61" y="220.90" width="2.25" height="0.79" fill="#C00000"/><rect x="531.61" y="221.69" width="2.25" height="3.17" fill="#275317"/><rect x="531.61" y="224.86" width="2.25" height="6.34" fill="#00B0F0"/><rect x="531.61" y="215.35" width="2.25" height="5.55" fill="#D9D9D9"/><rect x="535.06" y="220.90" width="2.25" height="1.58" fill="#C00000"/><rect x="535.06" y="222.48" width="2.25" height="2.38" fill="#275317"/><rect x="535.06" y="224.86" width="2.25" height="3.96" fill="#00B0F0"/><rect x="535.06" y="228.82" width="2.25" height="14.26" fill="#D9D9D9"/><rect x="538.50" y="212.03" width="2.25" height="8.87" fill="#C00000"/><rect x="538.50" y="220.90" width="2.25" height="4.75" fill="#275317"/><rect x="538.50" y="225.65" width="2.25" height="4.28" fill="#00B0F0"/><rect x="538.50" y="186.51" width="2.25" height="25.51" fill="#D9D9D9"/><rect x="541.95" y="220.90" width="2.25" height="9.03" fill="#C00000"/><rect x="541.95" y="229.93" width="2.25" height="6.18" fill="#275317"/><rect x="541.95" y="236.11" width="2.25" height="2.69" fill="#00B0F0"/><rect x="541.95" y="204.58" width="2.25" height="16.32" fill="#D9D9D9"/><rect x="545.40" y="220.90" width="2.25" height="4.91" fill="#275317"/><rect x="545.40" y="225.81" width="2.25" height="2.69" fill="#00B0F0"/><rect x="545.40" y="212.18" width="2.25" height="8.72" fill="#D9D9D9"/><rect x="548.85" y="220.90" width="2.25" height="3.96" fill="#275317"/><rect x="548.85" y="224.86" width="2.25" height="2.38" fill="#00B0F0"/><rect x="548.85" y="210.60" width="2.25" height="10.30" fill="#D9D9D9"/><rect x="552.29" y="220.90" width="2.25" height="1.43" fill="#C00000"/><rect x="552.29" y="222.33" width="2.25" height="3.96" fill="#275317"/><rect x="552.29" y="226.29" width="2.25" height="1.90" fill="#00B0F0"/><rect x="552.29" y="209.97" width="2.25" height="10.93" fill="#D9D9D9"/><rect x="555.74" y="220.90" width="2.25" height="3.17" fill="#DA70D6"/><rect x="555.74" y="224.07" width="2.25" height="5.07" fill="#275317"/><rect x="555.74" y="229.14" width="2.25" height="2.06" fill="#00B0F0"/><rect x="555.74" y="209.81" width="2.25" height="11.09" fill="#D9D9D9"/><rect x="559.18" y="220.90" width="2.25" height="2.38" fill="#FFCCCC"/><rect x="559.18" y="223.28" width="2.25" height="0.32" fill="#D9D9D9"/><rect x="562.63" y="220.90" width="2.25" height="7.13" fill="#FFCCCC"/><rect x="562.63" y="228.03" width="2.25" height="2.54" fill="#275317"/><rect x="562.63" y="217.41" width="2.25" height="3.49" fill="#D9D9D9"/><rect x="566.08" y="218.36" width="2.25" height="2.54" fill="#C00000"/><rect x="566.08" y="220.90" width="2.25" height="7.13" fill="#FFCCCC"/><rect x="566.08" y="228.03" width="2.25" height="2.38" fill="#275317"/><rect x="566.08" y="217.41" width="2.25" height="0.95" fill="#00B0F0"/><rect x="566.08" y="212.18" width="2.25" height="5.23" fill="#D9D9D9"/><rect x="569.53" y="220.90" width="2.25" height="9.03" fill="#FFCCCC"/><rect x="569.53" y="217.26" width="2.25" height="3.64" fill="#00B0F0"/><rect x="569.53" y="229.93" width="2.25" height="1.90" fill="#D9D9D9"/><rect x="572.97" y="217.26" width="2.25" height="3.64" fill="#C00000"/><rect x="572.97" y="220.90" width="2.25" height="11.25" fill="#FFCCCC"/><rect x="572.97" y="213.45" width="2.25" height="3.80" fill="#00B0F0"/><rect x="572.97" y="232.15" width="2.25" height="4.91" fill="#D9D9D9"/><rect x="576.42" y="218.36" width="2.25" height="2.54" fill="#C00000"/><rect x="576.42" y="220.90" width="2.25" height="12.68" fill="#FFCCCC"/><rect x="576.42" y="233.58" width="2.25" height="1.27" fill="#275317"/><rect x="576.42" y="214.40" width="2.25" height="3.96" fill="#00B0F0"/><rect x="576.42" y="213.61" width="2.25" height="0.79" fill="#D9D9D9"/><rect x="579.87" y="219.79" width="2.25" height="1.11" fill="#C00000"/><rect x="579.87" y="220.90" width="2.25" height="14.42" fill="#FFCCCC"/><rect x="579.87" y="235.32" width="2.25" height="1.27" fill="#275317"/><rect x="579.87" y="217.26" width="2.25" height="2.54" fill="#00B0F0"/><rect x="579.87" y="236.59" width="2.25" height="16.64" fill="#D9D9D9"/><rect x="583.31" y="208.86" width="2.25" height="12.04" fill="#C00000"/><rect x="583.31" y="220.90" width="2.25" height="12.68" fill="#FFCCCC"/><rect x="583.31" y="207.11" width="2.25" height="1.74" fill="#00B0F0"/><rect x="583.31" y="233.58" width="2.25" height="15.05" fill="#D9D9D9"/><rect x="586.76" y="216.15" width="2.25" height="4.75" fill="#C00000"/><rect x="586.76" y="220.90" width="2.25" height="12.04" fill="#FFCCCC"/><rect x="586.76" y="232.94" width="2.25" height="1.11" fill="#275317"/><rect x="586.76" y="215.04" width="2.25" height="1.11" fill="#00B0F0"/><rect x="586.76" y="234.05" width="2.25" height="2.54" fill="#D9D9D9"/><rect x="590.21" y="217.57" width="2.25" height="3.33" fill="#C00000"/><rect x="590.21" y="220.90" width="2.25" height="13.31" fill="#FFCCCC"/><rect x="590.21" y="216.46" width="2.25" height="1.11" fill="#00B0F0"/><rect x="590.21" y="234.21" width="2.25" height="3.33" fill="#D9D9D9"/><rect x="593.65" y="216.15" width="2.25" height="4.75" fill="#C00000"/><rect x="593.65" y="220.90" width="2.25" height="13.95" fill="#FFCCCC"/><rect x="593.65" y="234.85" width="2.25" height="1.43" fill="#275317"/><rect x="593.65" y="215.35" width="2.25" height="0.79" fill="#00B0F0"/><rect x="593.65" y="236.27" width="2.25" height="2.85" fill="#D9D9D9"/><rect x="597.10" y="216.15" width="2.25" height="4.75" fill="#C00000"/><rect x="597.10" y="220.90" width="2.25" height="0.48" fill="#DA70D6"/><rect x="597.10" y="221.38" width="2.25" height="15.85" fill="#FFCCCC"/><rect x="597.10" y="237.22" width="2.25" height="2.38" fill="#275317"/><rect x="597.10" y="215.51" width="2.25" height="0.63" fill="#00B0F0"/><rect x="597.10" y="213.61" width="2.25" height="1.90" fill="#D9D9D9"/><rect x="600.54" y="217.10" width="2.25" height="3.80" fill="#C00000"/><rect x="600.54" y="220.90" width="2.25" height="17.91" fill="#FFCCCC"/><rect x="600.54" y="238.81" width="2.25" height="1.74" fill="#275317"/><rect x="600.54" y="215.99" width="2.25" height="1.11" fill="#00B0F0"/><rect x="600.54" y="240.55" width="2.25" height="3.01" fill="#D9D9D9"/><rect x="603.99" y="214.56" width="2.25" height="6.34" fill="#C00000"/><rect x="603.99" y="220.90" width="2.25" height="11.09" fill="#FFCCCC"/><rect x="603.99" y="231.99" width="2.25" height="0.95" fill="#275317"/><rect x="603.99" y="213.29" width="2.25" height="1.27" fill="#00B0F0"/><rect x="603.99" y="232.94" width="2.25" height="3.17" fill="#D9D9D9"/><rect x="607.44" y="218.52" width="2.25" height="2.38" fill="#C00000"/><rect x="607.44" y="220.90" width="2.25" height="9.35" fill="#FFCCCC"/><rect x="607.44" y="230.25" width="2.25" height="1.90" fill="#275317"/><rect x="607.44" y="217.57" width="2.25" height="0.95" fill="#00B0F0"/><rect x="607.44" y="214.09" width="2.25" height="3.49" fill="#D9D9D9"/><rect x="610.88" y="218.68" width="2.25" height="2.22" fill="#C00000"/><rect x="610.88" y="220.90" width="2.25" height="11.57" fill="#FFCCCC"/><rect x="610.88" y="232.47" width="2.25" height="1.43" fill="#275317"/><rect x="610.88" y="217.57" width="2.25" height="1.11" fill="#00B0F0"/><rect x="610.88" y="216.46" width="2.25" height="1.11" fill="#D9D9D9"/><rect x="614.33" y="217.73" width="2.25" height="3.17" fill="#C00000"/><rect x="614.33" y="220.90" width="2.25" height="13.63" fill="#FFCCCC"/><rect x="614.33" y="234.53" width="2.25" height="3.64" fill="#275317"/><rect x="614.33" y="216.30" width="2.25" height="1.43" fill="#00B0F0"/><rect x="614.33" y="208.54" width="2.25" height="7.77" fill="#D9D9D9"/><rect x="617.78" y="220.90" width="2.25" height="13.79" fill="#FFCCCC"/><rect x="617.78" y="234.69" width="2.25" height="1.90" fill="#275317"/><rect x="617.78" y="219.16" width="2.25" height="1.74" fill="#00B0F0"/><rect x="617.78" y="207.91" width="2.25" height="11.25" fill="#D9D9D9"/><rect x="621.23" y="220.90" width="2.25" height="11.09" fill="#FFCCCC"/><rect x="621.23" y="231.99" width="2.25" height="0.79" fill="#275317"/><rect x="621.23" y="219.32" width="2.25" height="1.58" fill="#00B0F0"/><rect x="621.23" y="218.68" width="2.25" height="0.63" fill="#D9D9D9"/><rect x="624.67" y="220.90" width="2.25" height="11.73" fill="#FFCCCC"/><rect x="624.67" y="232.63" width="2.25" height="0.79" fill="#275317"/><rect x="624.67" y="218.52" width="2.25" height="2.38" fill="#00B0F0"/><rect x="624.67" y="204.26" width="2.25" height="14.26" fill="#D9D9D9"/><rect x="628.12" y="220.90" width="2.25" height="13.15" fill="#FFCCCC"/><rect x="628.12" y="234.05" width="2.25" height="1.11" fill="#275317"/><rect x="628.12" y="219.63" width="2.25" height="1.27" fill="#00B0F0"/><rect x="628.12" y="206.64" width="2.25" height="12.99" fill="#D9D9D9"/><rect x="631.57" y="220.90" width="2.25" height="13.15" fill="#FFCCCC"/><rect x="631.57" y="234.05" width="2.25" height="0.79" fill="#275317"/><rect x="631.57" y="219.47" width="2.25" height="1.43" fill="#00B0F0"/><rect x="631.57" y="206.16" width="2.25" height="13.31" fill="#D9D9D9"/><rect x="635.01" y="220.90" width="2.25" height="9.98" fill="#FFCCCC"/><rect x="635.01" y="210.12" width="2.25" height="10.78" fill="#D9D9D9"/><rect x="638.46" y="220.90" width="2.25" height="0.48" fill="#DA70D6"/><rect x="638.46" y="221.38" width="2.25" height="6.18" fill="#FFCCCC"/><rect x="638.46" y="227.56" width="2.25" height="0.48" fill="#275317"/><rect x="638.46" y="219.00" width="2.25" height="1.90" fill="#00B0F0"/><rect x="638.46" y="206.80" width="2.25" height="12.20" fill="#D9D9D9"/><rect x="641.90" y="220.90" width="2.25" height="1.74" fill="#C00000"/><rect x="641.90" y="222.64" width="2.25" height="2.38" fill="#FFCCCC"/><rect x="641.90" y="225.02" width="2.25" height="1.43" fill="#275317"/><rect x="641.90" y="220.11" width="2.25" height="0.79" fill="#00B0F0"/><rect x="641.90" y="209.81" width="2.25" height="10.30" fill="#D9D9D9"/><rect x="645.35" y="220.90" width="2.25" height="2.22" fill="#C00000"/><rect x="645.35" y="218.68" width="2.25" height="2.22" fill="#FFCCCC"/><rect x="645.35" y="223.12" width="2.25" height="2.22" fill="#275317"/><rect x="645.35" y="217.41" width="2.25" height="1.27" fill="#00B0F0"/><rect x="645.35" y="207.75" width="2.25" height="9.67" fill="#D9D9D9"/><rect x="648.80" y="220.90" width="2.25" height="2.69" fill="#C00000"/><rect x="648.80" y="216.46" width="2.25" height="4.44" fill="#FFCCCC"/><rect x="648.80" y="223.59" width="2.25" height="1.74" fill="#275317"/><rect x="648.80" y="209.97" width="2.25" height="6.50" fill="#D9D9D9"/><rect x="652.25" y="220.90" width="2.25" height="1.74" fill="#C00000"/><rect x="652.25" y="215.04" width="2.25" height="5.86" fill="#FFCCCC"/><rect x="652.25" y="222.64" width="2.25" height="1.90" fill="#275317"/><rect x="652.25" y="213.29" width="2.25" height="1.74" fill="#00B0F0"/><rect x="652.25" y="206.32" width="2.25" height="6.97" fill="#D9D9D9"/><rect x="655.69" y="220.90" width="2.25" height="3.64" fill="#C00000"/><rect x="655.69" y="212.98" width="2.25" height="7.92" fill="#FFCCCC"/><rect x="655.69" y="224.54" width="2.25" height="1.90" fill="#275317"/><rect x="655.69" y="211.07" width="2.25" height="1.90" fill="#00B0F0"/><rect x="655.69" y="207.75" width="2.25" height="3.33" fill="#D9D9D9"/><rect x="659.14" y="220.90" width="2.25" height="3.64" fill="#C00000"/><rect x="659.14" y="216.46" width="2.25" height="4.44" fill="#FFCCCC"/><rect x="659.14" y="213.61" width="2.25" height="2.85" fill="#D9D9D9"/><rect x="662.59" y="220.90" width="2.25" height="2.22" fill="#C00000"/><rect x="662.59" y="220.42" width="2.25" height="0.48" fill="#DA70D6"/><rect x="662.59" y="204.10" width="2.25" height="16.32" fill="#FFCCCC"/><rect x="662.59" y="202.68" width="2.25" height="1.43" fill="#00B0F0"/><rect x="662.59" y="173.52" width="2.25" height="29.16" fill="#D9D9D9"/><rect x="666.03" y="220.90" width="2.25" height="15.37" fill="#C00000"/><rect x="666.03" y="206.32" width="2.25" height="14.58" fill="#FFCCCC"/><rect x="666.03" y="236.27" width="2.25" height="1.90" fill="#275317"/><rect x="666.03" y="187.62" width="2.25" height="18.70" fill="#D9D9D9"/><rect x="669.48" y="220.90" width="2.25" height="6.50" fill="#C00000"/><rect x="669.48" y="201.88" width="2.25" height="19.02" fill="#FFCCCC"/><rect x="669.48" y="227.40" width="2.25" height="1.43" fill="#275317"/><rect x="669.48" y="200.46" width="2.25" height="1.43" fill="#00B0F0"/><rect x="669.48" y="195.54" width="2.25" height="4.91" fill="#D9D9D9"/><rect x="672.93" y="220.90" width="2.25" height="6.97" fill="#C00000"/><rect x="672.93" y="201.73" width="2.25" height="19.17" fill="#FFCCCC"/><rect x="672.93" y="227.87" width="2.25" height="1.43" fill="#275317"/><rect x="672.93" y="200.30" width="2.25" height="1.43" fill="#00B0F0"/><rect x="672.93" y="194.75" width="2.25" height="5.55" fill="#D9D9D9"/><rect x="676.37" y="220.90" width="2.25" height="6.50" fill="#C00000"/><rect x="676.37" y="204.10" width="2.25" height="16.80" fill="#FFCCCC"/><rect x="676.37" y="227.40" width="2.25" height="2.54" fill="#275317"/><rect x="676.37" y="203.63" width="2.25" height="0.48" fill="#00B0F0"/><rect x="676.37" y="195.86" width="2.25" height="7.77" fill="#D9D9D9"/><rect x="679.82" y="220.90" width="2.25" height="5.55" fill="#C00000"/><rect x="679.82" y="209.17" width="2.25" height="11.73" fill="#FFCCCC"/><rect x="679.82" y="226.45" width="2.25" height="2.06" fill="#275317"/><rect x="679.82" y="208.06" width="2.25" height="1.11" fill="#00B0F0"/><rect x="679.82" y="203.79" width="2.25" height="4.28" fill="#D9D9D9"/><rect x="683.26" y="220.90" width="2.25" height="4.12" fill="#C00000"/><rect x="683.26" y="216.46" width="2.25" height="4.44" fill="#FFCCCC"/><rect x="683.26" y="225.02" width="2.25" height="1.43" fill="#275317"/><rect x="683.26" y="215.04" width="2.25" height="1.43" fill="#00B0F0"/><rect x="683.26" y="203.63" width="2.25" height="11.41" fill="#D9D9D9"/><rect x="686.71" y="220.90" width="2.25" height="4.12" fill="#C00000"/><rect x="686.71" y="225.02" width="2.25" height="4.75" fill="#FFCCCC"/><rect x="686.71" y="229.77" width="2.25" height="1.90" fill="#275317"/><rect x="686.71" y="220.11" width="2.25" height="0.79" fill="#00B0F0"/><rect x="686.71" y="206.48" width="2.25" height="13.63" fill="#D9D9D9"/><rect x="690.16" y="220.90" width="2.25" height="8.08" fill="#FFCCCC"/><rect x="690.16" y="228.98" width="2.25" height="2.06" fill="#275317"/><rect x="690.16" y="219.47" width="2.25" height="1.43" fill="#00B0F0"/><rect x="690.16" y="202.83" width="2.25" height="16.64" fill="#D9D9D9"/><rect x="693.61" y="220.90" width="2.25" height="2.69" fill="#C00000"/><rect x="693.61" y="223.59" width="2.25" height="8.40" fill="#FFCCCC"/><rect x="693.61" y="231.99" width="2.25" height="1.90" fill="#275317"/><rect x="693.61" y="205.53" width="2.25" height="15.37" fill="#D9D9D9"/><rect x="697.05" y="220.90" width="2.25" height="9.51" fill="#FFCCCC"/><rect x="697.05" y="230.41" width="2.25" height="1.90" fill="#275317"/><rect x="697.05" y="209.17" width="2.25" height="11.73" fill="#D9D9D9"/><rect x="700.50" y="220.90" width="2.25" height="9.51" fill="#FFCCCC"/><rect x="700.50" y="230.41" width="2.25" height="2.06" fill="#275317"/><rect x="700.50" y="198.56" width="2.25" height="22.34" fill="#D9D9D9"/><rect x="703.95" y="220.90" width="2.25" height="3.96" fill="#C00000"/><rect x="703.95" y="224.86" width="2.25" height="8.72" fill="#FFCCCC"/><rect x="703.95" y="233.58" width="2.25" height="1.58" fill="#275317"/><rect x="703.95" y="220.42" width="2.25" height="0.48" fill="#00B0F0"/><rect x="703.95" y="235.16" width="2.25" height="2.54" fill="#D9D9D9"/><rect x="707.39" y="214.56" width="2.25" height="6.34" fill="#C00000"/><rect x="707.39" y="213.61" width="2.25" height="0.95" fill="#DA70D6"/><rect x="707.39" y="220.90" width="2.25" height="12.99" fill="#FFCCCC"/><rect x="707.39" y="233.89" width="2.25" height="1.74" fill="#275317"/><rect x="707.39" y="212.82" width="2.25" height="0.79" fill="#00B0F0"/><rect x="707.39" y="208.22" width="2.25" height="4.60" fill="#D9D9D9"/><rect x="710.84" y="220.90" width="2.25" height="12.36" fill="#FFCCCC"/><rect x="710.84" y="233.26" width="2.25" height="1.90" fill="#275317"/><rect x="710.84" y="219.79" width="2.25" height="1.11" fill="#00B0F0"/><rect x="710.84" y="214.09" width="2.25" height="5.70" fill="#D9D9D9"/><rect x="714.28" y="218.52" width="2.25" height="2.38" fill="#C00000"/><rect x="714.28" y="220.90" width="2.25" height="13.79" fill="#FFCCCC"/><rect x="714.28" y="234.69" width="2.25" height="1.90" fill="#275317"/><rect x="714.28" y="216.46" width="2.25" height="2.06" fill="#00B0F0"/><rect x="714.28" y="208.54" width="2.25" height="7.92" fill="#D9D9D9"/><rect x="717.73" y="219.32" width="2.25" height="1.58" fill="#C00000"/><rect x="717.73" y="220.90" width="2.25" height="14.42" fill="#FFCCCC"/><rect x="717.73" y="235.32" width="2.25" height="1.43" fill="#275317"/><rect x="717.73" y="217.89" width="2.25" height="1.43" fill="#00B0F0"/><rect x="717.73" y="236.75" width="2.25" height="1.43" fill="#D9D9D9"/><rect x="721.18" y="216.46" width="2.25" height="4.44" fill="#C00000"/><rect x="721.18" y="220.90" width="2.25" height="12.99" fill="#FFCCCC"/><rect x="721.18" y="233.89" width="2.25" height="1.90" fill="#275317"/><rect x="721.18" y="214.56" width="2.25" height="1.90" fill="#00B0F0"/><rect x="721.18" y="235.80" width="2.25" height="12.20" fill="#D9D9D9"/><rect x="724.62" y="213.13" width="2.25" height="7.77" fill="#C00000"/><rect x="724.62" y="220.90" width="2.25" height="3.33" fill="#DA70D6"/><rect x="724.62" y="224.23" width="2.25" height="6.02" fill="#FFCCCC"/><rect x="724.62" y="230.25" width="2.25" height="2.06" fill="#275317"/><rect x="724.62" y="211.71" width="2.25" height="1.43" fill="#00B0F0"/><rect x="724.62" y="232.31" width="2.25" height="37.56" fill="#D9D9D9"/><rect x="728.07" y="203.63" width="2.25" height="17.27" fill="#C00000"/><rect x="728.07" y="220.90" width="2.25" height="2.69" fill="#DA70D6"/><rect x="728.07" y="223.59" width="2.25" height="5.07" fill="#FFCCCC"/><rect x="728.07" y="228.67" width="2.25" height="2.06" fill="#275317"/><rect x="728.07" y="203.15" width="2.25" height="0.48" fill="#00B0F0"/><rect x="728.07" y="230.73" width="2.25" height="40.73" fill="#D9D9D9"/><rect x="731.52" y="207.27" width="2.25" height="13.63" fill="#C00000"/><rect x="731.52" y="220.90" width="2.25" height="3.49" fill="#DA70D6"/><rect x="731.52" y="224.39" width="2.25" height="7.13" fill="#FFCCCC"/><rect x="731.52" y="231.52" width="2.25" height="2.54" fill="#275317"/><rect x="731.52" y="234.05" width="2.25" height="42.47" fill="#D9D9D9"/><rect x="734.97" y="202.52" width="2.25" height="18.38" fill="#C00000"/><rect x="734.97" y="220.90" width="2.25" height="5.70" fill="#DA70D6"/><rect x="734.97" y="226.60" width="2.25" height="4.44" fill="#FFCCCC"/><rect x="734.97" y="231.04" width="2.25" height="2.54" fill="#275317"/><rect x="734.97" y="233.58" width="2.25" height="0.48" fill="#00B0F0"/><rect x="734.97" y="234.05" width="2.25" height="46.43" fill="#D9D9D9"/><rect x="738.41" y="203.31" width="2.25" height="17.59" fill="#C00000"/><rect x="738.41" y="220.90" width="2.25" height="4.91" fill="#DA70D6"/><rect x="738.41" y="225.81" width="2.25" height="2.69" fill="#FFCCCC"/><rect x="738.41" y="228.51" width="2.25" height="2.69" fill="#275317"/><rect x="738.41" y="231.20" width="2.25" height="41.04" fill="#D9D9D9"/><rect x="741.86" y="207.27" width="2.25" height="13.63" fill="#C00000"/><rect x="741.86" y="220.90" width="2.25" height="4.75" fill="#DA70D6"/><rect x="741.86" y="225.65" width="2.25" height="5.23" fill="#FFCCCC"/><rect x="741.86" y="230.88" width="2.25" height="2.54" fill="#275317"/><rect x="741.86" y="233.42" width="2.25" height="37.24" fill="#D9D9D9"/><rect x="745.31" y="205.85" width="2.25" height="15.05" fill="#C00000"/><rect x="745.31" y="220.90" width="2.25" height="24.56" fill="#DA70D6"/><rect x="745.31" y="245.46" width="2.25" height="5.86" fill="#FFCCCC"/><rect x="745.31" y="251.33" width="2.25" height="2.54" fill="#275317"/><rect x="745.31" y="253.86" width="2.25" height="0.79" fill="#00B0F0"/><rect x="745.31" y="254.65" width="2.25" height="55.31" fill="#D9D9D9"/><rect x="748.75" y="182.87" width="2.25" height="38.03" fill="#C00000"/><rect x="748.75" y="220.90" width="2.25" height="33.28" fill="#DA70D6"/><rect x="748.75" y="174.47" width="2.25" height="8.40" fill="#B4E5A2"/><rect x="748.75" y="254.18" width="2.25" height="7.29" fill="#FFCCCC"/><rect x="748.75" y="261.47" width="2.25" height="2.54" fill="#275317"/><rect x="748.75" y="264.00" width="2.25" height="1.11" fill="#00B0F0"/><rect x="748.75" y="265.11" width="2.25" height="71.95" fill="#D9D9D9"/><rect x="752.20" y="186.04" width="2.25" height="34.86" fill="#C00000"/><rect x="752.20" y="220.90" width="2.25" height="52.30" fill="#DA70D6"/><rect x="752.20" y="174.31" width="2.25" height="11.73" fill="#B4E5A2"/><rect x="752.20" y="273.20" width="2.25" height="10.30" fill="#FFCCCC"/><rect x="752.20" y="283.50" width="2.25" height="2.22" fill="#275317"/><rect x="752.20" y="285.71" width="2.25" height="41.20" fill="#D9D9D9"/><rect x="755.64" y="193.17" width="2.25" height="27.73" fill="#C00000"/><rect x="755.64" y="220.90" width="2.25" height="55.15" fill="#DA70D6"/><rect x="755.64" y="171.93" width="2.25" height="21.23" fill="#B4E5A2"/><rect x="755.64" y="276.05" width="2.25" height="5.86" fill="#FFCCCC"/><rect x="755.64" y="281.91" width="2.25" height="0.79" fill="#00B0F0"/><rect x="755.64" y="282.70" width="2.25" height="40.89" fill="#D9D9D9"/><rect x="759.09" y="196.34" width="2.25" height="24.56" fill="#C00000"/><rect x="759.09" y="220.90" width="2.25" height="44.85" fill="#DA70D6"/><rect x="759.09" y="174.47" width="2.25" height="21.87" fill="#B4E5A2"/><rect x="759.09" y="265.75" width="2.25" height="6.81" fill="#FFCCCC"/><rect x="759.09" y="272.56" width="2.25" height="2.38" fill="#275317"/><rect x="759.09" y="274.94" width="2.25" height="32.96" fill="#D9D9D9"/><rect x="762.54" y="203.31" width="2.25" height="17.59" fill="#C00000"/><rect x="762.54" y="220.90" width="2.25" height="41.20" fill="#DA70D6"/><rect x="762.54" y="185.88" width="2.25" height="17.43" fill="#B4E5A2"/><rect x="762.54" y="262.10" width="2.25" height="6.50" fill="#FFCCCC"/><rect x="762.54" y="268.60" width="2.25" height="2.22" fill="#275317"/><rect x="762.54" y="185.09" width="2.25" height="0.79" fill="#00B0F0"/><rect x="762.54" y="270.82" width="2.25" height="23.45" fill="#D9D9D9"/><rect x="765.99" y="205.37" width="2.25" height="15.53" fill="#C00000"/><rect x="765.99" y="220.90" width="2.25" height="48.49" fill="#DA70D6"/><rect x="765.99" y="189.84" width="2.25" height="15.53" fill="#B4E5A2"/><rect x="765.99" y="269.39" width="2.25" height="5.07" fill="#FFCCCC"/><rect x="765.99" y="274.46" width="2.25" height="1.43" fill="#275317"/><rect x="765.99" y="275.89" width="2.25" height="0.95" fill="#00B0F0"/><rect x="765.99" y="186.51" width="2.25" height="3.33" fill="#D9D9D9"/><rect x="769.43" y="212.66" width="2.25" height="8.24" fill="#C00000"/><rect x="769.43" y="220.90" width="2.25" height="41.99" fill="#DA70D6"/><rect x="769.43" y="196.34" width="2.25" height="16.32" fill="#B4E5A2"/><rect x="769.43" y="262.89" width="2.25" height="1.11" fill="#275317"/><rect x="769.43" y="195.54" width="2.25" height="0.79" fill="#00B0F0"/><rect x="769.43" y="264.00" width="2.25" height="3.49" fill="#D9D9D9"/><rect x="772.88" y="213.13" width="2.25" height="7.77" fill="#C00000"/><rect x="772.88" y="220.90" width="2.25" height="43.42" fill="#DA70D6"/><rect x="772.88" y="196.34" width="2.25" height="16.80" fill="#B4E5A2"/><rect x="772.88" y="190.47" width="2.25" height="5.86" fill="#FFCCCC"/><rect x="772.88" y="264.32" width="2.25" height="1.11" fill="#275317"/><rect x="772.88" y="188.26" width="2.25" height="2.22" fill="#00B0F0"/><rect x="772.88" y="265.43" width="2.25" height="2.38" fill="#D9D9D9"/><rect x="776.33" y="215.51" width="2.25" height="5.39" fill="#C00000"/><rect x="776.33" y="220.90" width="2.25" height="44.37" fill="#DA70D6"/><rect x="776.33" y="198.40" width="2.25" height="17.11" fill="#B4E5A2"/><rect x="776.33" y="189.68" width="2.25" height="8.72" fill="#FFCCCC"/><rect x="776.33" y="188.26" width="2.25" height="1.43" fill="#275317"/><rect x="776.33" y="181.44" width="2.25" height="6.81" fill="#00B0F0"/><rect x="776.33" y="265.27" width="2.25" height="2.54" fill="#D9D9D9"/><rect x="779.77" y="218.84" width="2.25" height="2.06" fill="#C00000"/><rect x="779.77" y="220.90" width="2.25" height="47.07" fill="#DA70D6"/><rect x="779.77" y="202.04" width="2.25" height="16.80" fill="#B4E5A2"/><rect x="779.77" y="191.11" width="2.25" height="10.93" fill="#FFCCCC"/><rect x="779.77" y="183.82" width="2.25" height="7.29" fill="#00B0F0"/><rect x="779.77" y="267.97" width="2.25" height="11.57" fill="#D9D9D9"/><rect x="783.22" y="213.13" width="2.25" height="7.77" fill="#C00000"/><rect x="783.22" y="220.90" width="2.25" height="47.86" fill="#DA70D6"/><rect x="783.22" y="197.76" width="2.25" height="15.37" fill="#B4E5A2"/><rect x="783.22" y="185.40" width="2.25" height="12.36" fill="#FFCCCC"/><rect x="783.22" y="183.18" width="2.25" height="2.22" fill="#275317"/><rect x="783.22" y="175.89" width="2.25" height="7.29" fill="#00B0F0"/><rect x="783.22" y="268.76" width="2.25" height="19.02" fill="#D9D9D9"/><rect x="786.67" y="213.13" width="2.25" height="7.77" fill="#C00000"/><rect x="786.67" y="220.90" width="2.25" height="25.99" fill="#DA70D6"/><rect x="786.67" y="198.56" width="2.25" height="14.58" fill="#B4E5A2"/><rect x="786.67" y="185.09" width="2.25" height="13.47" fill="#FFCCCC"/><rect x="786.67" y="183.50" width="2.25" height="1.58" fill="#00B0F0"/><rect x="786.67" y="145.31" width="2.25" height="38.19" fill="#D9D9D9"/><rect x="790.11" y="220.90" width="2.25" height="16.48" fill="#C00000"/><rect x="790.11" y="237.38" width="2.25" height="18.22" fill="#DA70D6"/><rect x="790.11" y="210.92" width="2.25" height="9.98" fill="#B4E5A2"/><rect x="790.11" y="195.54" width="2.25" height="15.37" fill="#FFCCCC"/><rect x="790.11" y="193.64" width="2.25" height="1.90" fill="#00B0F0"/><rect x="790.11" y="152.92" width="2.25" height="40.73" fill="#D9D9D9"/><rect x="793.56" y="220.90" width="2.25" height="10.93" fill="#C00000"/><rect x="793.56" y="212.66" width="2.25" height="8.24" fill="#B4E5A2"/><rect x="793.56" y="197.13" width="2.25" height="15.53" fill="#FFCCCC"/><rect x="793.56" y="195.70" width="2.25" height="1.43" fill="#00B0F0"/><rect x="793.56" y="191.27" width="2.25" height="4.44" fill="#D9D9D9"/><rect x="797.00" y="220.90" width="2.25" height="6.50" fill="#C00000"/><rect x="797.00" y="227.40" width="2.25" height="3.33" fill="#DA70D6"/><rect x="797.00" y="230.73" width="2.25" height="3.64" fill="#B4E5A2"/><rect x="797.00" y="202.68" width="2.25" height="18.22" fill="#FFCCCC"/><rect x="797.00" y="234.37" width="2.25" height="1.74" fill="#275317"/><rect x="797.00" y="192.69" width="2.25" height="9.98" fill="#D9D9D9"/><rect x="800.45" y="220.90" width="2.25" height="4.91" fill="#C00000"/><rect x="800.45" y="225.81" width="2.25" height="6.81" fill="#DA70D6"/><rect x="800.45" y="232.63" width="2.25" height="3.80" fill="#B4E5A2"/><rect x="800.45" y="201.41" width="2.25" height="19.49" fill="#FFCCCC"/><rect x="800.45" y="236.43" width="2.25" height="0.95" fill="#00B0F0"/><rect x="800.45" y="198.08" width="2.25" height="3.33" fill="#D9D9D9"/><rect x="803.90" y="220.90" width="2.25" height="1.27" fill="#C00000"/><rect x="803.90" y="222.17" width="2.25" height="7.77" fill="#DA70D6"/><rect x="803.90" y="200.93" width="2.25" height="19.97" fill="#FFCCCC"/><rect x="803.90" y="229.93" width="2.25" height="1.58" fill="#00B0F0"/><rect x="803.90" y="231.52" width="2.25" height="8.08" fill="#D9D9D9"/><rect x="807.35" y="215.20" width="2.25" height="5.70" fill="#DA70D6"/><rect x="807.35" y="198.40" width="2.25" height="16.80" fill="#FFCCCC"/><rect x="807.35" y="220.90" width="2.25" height="1.27" fill="#275317"/><rect x="807.35" y="222.17" width="2.25" height="5.86" fill="#D9D9D9"/><rect x="810.79" y="220.90" width="2.25" height="5.86" fill="#C00000"/><rect x="810.79" y="220.27" width="2.25" height="0.63" fill="#DA70D6"/><rect x="810.79" y="203.94" width="2.25" height="16.32" fill="#FFCCCC"/><rect x="810.79" y="226.76" width="2.25" height="1.90" fill="#00B0F0"/><rect x="814.24" y="220.90" width="2.25" height="2.85" fill="#C00000"/><rect x="814.24" y="204.42" width="2.25" height="16.48" fill="#FFCCCC"/><rect x="814.24" y="223.75" width="2.25" height="2.06" fill="#00B0F0"/><rect x="814.24" y="201.57" width="2.25" height="2.85" fill="#D9D9D9"/><rect x="817.69" y="220.90" width="2.25" height="4.44" fill="#C00000"/><rect x="817.69" y="218.21" width="2.25" height="2.69" fill="#DA70D6"/><rect x="817.69" y="205.85" width="2.25" height="12.36" fill="#FFCCCC"/><rect x="817.69" y="225.34" width="2.25" height="3.64" fill="#275317"/><rect x="817.69" y="228.98" width="2.25" height="0.32" fill="#D9D9D9"/><rect x="821.13" y="220.90" width="2.25" height="1.90" fill="#C00000"/><rect x="821.13" y="222.80" width="2.25" height="2.38" fill="#B4E5A2"/><rect x="821.13" y="208.70" width="2.25" height="12.20" fill="#FFCCCC"/><rect x="821.13" y="225.18" width="2.25" height="1.74" fill="#275317"/><rect x="821.13" y="226.92" width="2.25" height="1.27" fill="#D9D9D9"/><rect x="824.58" y="210.92" width="2.25" height="9.98" fill="#FFCCCC"/><rect x="824.58" y="220.90" width="2.25" height="7.29" fill="#D9D9D9"/><rect x="828.02" y="220.90" width="2.25" height="1.27" fill="#C00000"/><rect x="828.02" y="222.17" width="2.25" height="6.81" fill="#DA70D6"/><rect x="828.02" y="216.78" width="2.25" height="4.12" fill="#FFCCCC"/><rect x="828.02" y="228.98" width="2.25" height="1.74" fill="#00B0F0"/><rect x="828.02" y="230.73" width="2.25" height="22.50" fill="#D9D9D9"/><rect x="831.47" y="210.12" width="2.25" height="10.78" fill="#C00000"/><rect x="831.47" y="220.90" width="2.25" height="11.41" fill="#DA70D6"/><rect x="831.47" y="232.31" width="2.25" height="2.22" fill="#B4E5A2"/><rect x="831.47" y="205.37" width="2.25" height="4.75" fill="#FFCCCC"/><rect x="831.47" y="234.53" width="2.25" height="1.11" fill="#00B0F0"/><rect x="831.47" y="235.64" width="2.25" height="27.57" fill="#D9D9D9"/><rect x="834.92" y="219.63" width="2.25" height="1.27" fill="#DA70D6"/><rect x="834.92" y="202.20" width="2.25" height="17.43" fill="#FFCCCC"/><rect x="834.92" y="220.90" width="2.25" height="0.95" fill="#00B0F0"/><rect x="834.92" y="221.85" width="2.25" height="5.55" fill="#D9D9D9"/><rect x="838.37" y="212.34" width="2.25" height="8.56" fill="#DA70D6"/><rect x="838.37" y="207.91" width="2.25" height="4.44" fill="#FFCCCC"/><rect x="838.37" y="220.90" width="2.25" height="20.44" fill="#D9D9D9"/><rect x="841.81" y="220.90" width="2.25" height="1.27" fill="#C00000"/><rect x="841.81" y="205.05" width="2.25" height="15.85" fill="#DA70D6"/><rect x="841.81" y="222.17" width="2.25" height="6.34" fill="#FFCCCC"/><rect x="841.81" y="204.10" width="2.25" height="0.95" fill="#00B0F0"/><rect x="841.81" y="228.51" width="2.25" height="16.32" fill="#D9D9D9"/><rect x="845.26" y="206.48" width="2.25" height="14.42" fill="#DA70D6"/><rect x="845.26" y="220.90" width="2.25" height="7.92" fill="#FFCCCC"/><rect x="845.26" y="228.82" width="2.25" height="1.90" fill="#275317"/><rect x="845.26" y="205.69" width="2.25" height="0.79" fill="#00B0F0"/><rect x="845.26" y="230.73" width="2.25" height="4.60" fill="#D9D9D9"/><rect x="848.71" y="208.70" width="2.25" height="12.20" fill="#DA70D6"/><rect x="848.71" y="220.90" width="2.25" height="7.92" fill="#FFCCCC"/><rect x="848.71" y="228.82" width="2.25" height="0.95" fill="#275317"/><rect x="848.71" y="207.75" width="2.25" height="0.95" fill="#00B0F0"/><rect x="848.71" y="229.77" width="2.25" height="8.72" fill="#D9D9D9"/><rect x="852.15" y="205.37" width="2.25" height="15.53" fill="#DA70D6"/><rect x="852.15" y="220.90" width="2.25" height="9.67" fill="#FFCCCC"/><rect x="852.15" y="230.57" width="2.25" height="1.43" fill="#275317"/><rect x="852.15" y="204.42" width="2.25" height="0.95" fill="#00B0F0"/><rect x="852.15" y="231.99" width="2.25" height="7.29" fill="#D9D9D9"/><rect x="855.60" y="204.26" width="2.25" height="16.64" fill="#DA70D6"/><rect x="855.60" y="220.90" width="2.25" height="15.05" fill="#FFCCCC"/><rect x="855.60" y="235.95" width="2.25" height="1.43" fill="#275317"/><rect x="855.60" y="237.38" width="2.25" height="1.43" fill="#00B0F0"/><rect x="855.60" y="199.67" width="2.25" height="4.60" fill="#D9D9D9"/><rect x="859.05" y="203.79" width="2.25" height="17.11" fill="#DA70D6"/><rect x="859.05" y="220.90" width="2.25" height="4.91" fill="#B4E5A2"/><rect x="859.05" y="225.81" width="2.25" height="19.17" fill="#FFCCCC"/><rect x="859.05" y="244.99" width="2.25" height="1.43" fill="#275317"/><rect x="859.05" y="246.41" width="2.25" height="5.07" fill="#00B0F0"/><rect x="859.05" y="198.08" width="2.25" height="5.70" fill="#D9D9D9"/><rect x="862.49" y="196.97" width="2.25" height="23.93" fill="#DA70D6"/><rect x="862.49" y="220.90" width="2.25" height="4.91" fill="#B4E5A2"/><rect x="862.49" y="225.81" width="2.25" height="21.87" fill="#FFCCCC"/><rect x="862.49" y="247.68" width="2.25" height="1.43" fill="#275317"/><rect x="862.49" y="249.11" width="2.25" height="5.86" fill="#00B0F0"/><rect x="862.49" y="188.73" width="2.25" height="8.24" fill="#D9D9D9"/><rect x="865.94" y="190.47" width="2.25" height="30.43" fill="#DA70D6"/><rect x="865.94" y="220.90" width="2.25" height="4.91" fill="#B4E5A2"/><rect x="865.94" y="225.81" width="2.25" height="19.65" fill="#FFCCCC"/><rect x="865.94" y="245.46" width="2.25" height="3.17" fill="#275317"/><rect x="865.94" y="248.63" width="2.25" height="5.55" fill="#00B0F0"/><rect x="865.94" y="179.38" width="2.25" height="11.09" fill="#D9D9D9"/><rect x="869.38" y="220.90" width="2.25" height="2.69" fill="#C00000"/><rect x="869.38" y="174.47" width="2.25" height="46.43" fill="#DA70D6"/><rect x="869.38" y="223.59" width="2.25" height="11.41" fill="#B4E5A2"/><rect x="869.38" y="235.00" width="2.25" height="12.68" fill="#FFCCCC"/><rect x="869.38" y="247.68" width="2.25" height="1.90" fill="#00B0F0"/><rect x="869.38" y="145.79" width="2.25" height="28.68" fill="#D9D9D9"/><rect x="872.83" y="220.90" width="2.25" height="16.16" fill="#C00000"/><rect x="872.83" y="163.85" width="2.25" height="57.05" fill="#DA70D6"/><rect x="872.83" y="237.06" width="2.25" height="12.84" fill="#B4E5A2"/><rect x="872.83" y="249.90" width="2.25" height="12.36" fill="#FFCCCC"/><rect x="872.83" y="262.26" width="2.25" height="2.22" fill="#275317"/><rect x="872.83" y="162.42" width="2.25" height="1.43" fill="#00B0F0"/><rect x="872.83" y="115.52" width="2.25" height="46.91" fill="#D9D9D9"/><rect x="876.28" y="220.90" width="2.25" height="19.49" fill="#C00000"/><rect x="876.28" y="174.63" width="2.25" height="46.27" fill="#DA70D6"/><rect x="876.28" y="240.39" width="2.25" height="13.79" fill="#B4E5A2"/><rect x="876.28" y="254.18" width="2.25" height="15.69" fill="#FFCCCC"/><rect x="876.28" y="269.87" width="2.25" height="2.06" fill="#275317"/><rect x="876.28" y="173.04" width="2.25" height="1.58" fill="#00B0F0"/><rect x="876.28" y="148.64" width="2.25" height="24.40" fill="#D9D9D9"/><rect x="879.73" y="220.90" width="2.25" height="6.66" fill="#C00000"/><rect x="879.73" y="185.09" width="2.25" height="35.81" fill="#DA70D6"/><rect x="879.73" y="227.56" width="2.25" height="15.69" fill="#B4E5A2"/><rect x="879.73" y="243.24" width="2.25" height="13.63" fill="#FFCCCC"/><rect x="879.73" y="256.87" width="2.25" height="2.06" fill="#275317"/><rect x="879.73" y="183.66" width="2.25" height="1.43" fill="#00B0F0"/><rect x="879.73" y="156.56" width="2.25" height="27.10" fill="#D9D9D9"/><rect x="883.17" y="220.90" width="2.25" height="9.19" fill="#C00000"/><rect x="883.17" y="190.79" width="2.25" height="30.11" fill="#DA70D6"/><rect x="883.17" y="230.09" width="2.25" height="14.74" fill="#B4E5A2"/><rect x="883.17" y="244.83" width="2.25" height="8.24" fill="#FFCCCC"/><rect x="883.17" y="253.07" width="2.25" height="1.90" fill="#275317"/><rect x="883.17" y="189.36" width="2.25" height="1.43" fill="#00B0F0"/><rect x="883.17" y="159.73" width="2.25" height="29.63" fill="#D9D9D9"/><rect x="886.62" y="220.90" width="2.25" height="9.19" fill="#C00000"/><rect x="886.62" y="190.47" width="2.25" height="30.43" fill="#DA70D6"/><rect x="886.62" y="230.09" width="2.25" height="13.95" fill="#B4E5A2"/><rect x="886.62" y="244.04" width="2.25" height="13.47" fill="#FFCCCC"/><rect x="886.62" y="257.51" width="2.25" height="1.90" fill="#275317"/><rect x="886.62" y="189.05" width="2.25" height="1.43" fill="#00B0F0"/><rect x="886.62" y="160.52" width="2.25" height="28.52" fill="#D9D9D9"/><rect x="890.07" y="220.90" width="2.25" height="7.92" fill="#C00000"/><rect x="890.07" y="190.79" width="2.25" height="30.11" fill="#DA70D6"/><rect x="890.07" y="228.82" width="2.25" height="12.84" fill="#B4E5A2"/><rect x="890.07" y="241.66" width="2.25" height="13.15" fill="#FFCCCC"/><rect x="890.07" y="254.81" width="2.25" height="1.90" fill="#275317"/><rect x="890.07" y="189.84" width="2.25" height="0.95" fill="#00B0F0"/><rect x="890.07" y="167.65" width="2.25" height="22.19" fill="#D9D9D9"/><rect x="893.51" y="220.90" width="2.25" height="6.02" fill="#C00000"/><rect x="893.51" y="193.96" width="2.25" height="26.94" fill="#DA70D6"/><rect x="893.51" y="226.92" width="2.25" height="13.15" fill="#B4E5A2"/><rect x="893.51" y="240.07" width="2.25" height="11.09" fill="#FFCCCC"/><rect x="893.51" y="251.17" width="2.25" height="2.06" fill="#275317"/><rect x="893.51" y="193.01" width="2.25" height="0.95" fill="#00B0F0"/><rect x="893.51" y="172.73" width="2.25" height="20.28" fill="#D9D9D9"/><rect x="896.96" y="220.90" width="2.25" height="5.23" fill="#C00000"/><rect x="896.96" y="193.96" width="2.25" height="26.94" fill="#DA70D6"/><rect x="896.96" y="226.13" width="2.25" height="12.68" fill="#B4E5A2"/><rect x="896.96" y="238.81" width="2.25" height="6.81" fill="#FFCCCC"/><rect x="896.96" y="245.62" width="2.25" height="2.06" fill="#275317"/><rect x="896.96" y="192.53" width="2.25" height="1.43" fill="#00B0F0"/><rect x="896.96" y="189.21" width="2.25" height="3.33" fill="#D9D9D9"/><rect x="900.40" y="220.90" width="2.25" height="0.79" fill="#C00000"/><rect x="900.40" y="196.50" width="2.25" height="24.40" fill="#DA70D6"/><rect x="900.40" y="221.69" width="2.25" height="12.84" fill="#B4E5A2"/><rect x="900.40" y="234.53" width="2.25" height="0.95" fill="#FFCCCC"/><rect x="900.40" y="235.48" width="2.25" height="1.74" fill="#275317"/><rect x="900.40" y="194.59" width="2.25" height="1.90" fill="#00B0F0"/><rect x="900.40" y="185.72" width="2.25" height="8.87" fill="#D9D9D9"/><rect x="903.85" y="220.90" width="2.25" height="6.66" fill="#C00000"/><rect x="903.85" y="197.60" width="2.25" height="23.30" fill="#DA70D6"/><rect x="903.85" y="227.56" width="2.25" height="5.86" fill="#B4E5A2"/><rect x="903.85" y="233.42" width="2.25" height="5.23" fill="#FFCCCC"/><rect x="903.85" y="238.65" width="2.25" height="2.06" fill="#275317"/><rect x="903.85" y="195.39" width="2.25" height="2.22" fill="#00B0F0"/><rect x="903.85" y="193.96" width="2.25" height="1.43" fill="#D9D9D9"/><rect x="907.30" y="206.32" width="2.25" height="14.58" fill="#DA70D6"/><rect x="907.30" y="220.90" width="2.25" height="12.99" fill="#B4E5A2"/><rect x="907.30" y="233.89" width="2.25" height="2.22" fill="#FFCCCC"/><rect x="907.30" y="236.11" width="2.25" height="1.90" fill="#275317"/><rect x="907.30" y="203.94" width="2.25" height="2.38" fill="#00B0F0"/><rect x="907.30" y="238.01" width="2.25" height="1.74" fill="#D9D9D9"/><rect x="910.75" y="213.77" width="2.25" height="7.13" fill="#DA70D6"/><rect x="910.75" y="220.90" width="2.25" height="3.17" fill="#B4E5A2"/><rect x="910.75" y="224.07" width="2.25" height="10.62" fill="#FFCCCC"/><rect x="910.75" y="234.69" width="2.25" height="2.06" fill="#275317"/><rect x="910.75" y="212.18" width="2.25" height="1.58" fill="#00B0F0"/><rect x="910.75" y="204.42" width="2.25" height="7.77" fill="#D9D9D9"/><rect x="914.19" y="219.32" width="2.25" height="1.58" fill="#DA70D6"/><rect x="914.19" y="220.90" width="2.25" height="3.17" fill="#FFCCCC"/><rect x="914.19" y="218.05" width="2.25" height="1.27" fill="#00B0F0"/><rect x="914.19" y="224.07" width="2.25" height="10.46" fill="#D9D9D9"/><rect x="917.64" y="215.35" width="2.25" height="5.55" fill="#C00000"/><rect x="917.64" y="220.90" width="2.25" height="7.92" fill="#FFCCCC"/><rect x="917.64" y="228.82" width="2.25" height="1.90" fill="#275317"/><rect x="917.64" y="213.61" width="2.25" height="1.74" fill="#00B0F0"/><rect x="917.64" y="230.73" width="2.25" height="23.14" fill="#D9D9D9"/><rect x="921.09" y="210.12" width="2.25" height="10.78" fill="#C00000"/><rect x="921.09" y="220.90" width="2.25" height="7.13" fill="#FFCCCC"/><rect x="921.09" y="228.03" width="2.25" height="1.58" fill="#275317"/><rect x="921.09" y="208.06" width="2.25" height="2.06" fill="#00B0F0"/><rect x="921.09" y="229.62" width="2.25" height="24.56" fill="#D9D9D9"/><rect x="924.53" y="213.29" width="2.25" height="7.61" fill="#C00000"/><rect x="924.53" y="220.90" width="2.25" height="5.07" fill="#FFCCCC"/><rect x="924.53" y="225.97" width="2.25" height="1.90" fill="#275317"/><rect x="924.53" y="211.23" width="2.25" height="2.06" fill="#00B0F0"/><rect x="924.53" y="227.87" width="2.25" height="20.92" fill="#D9D9D9"/><rect x="927.98" y="214.40" width="2.25" height="6.50" fill="#C00000"/><rect x="927.98" y="212.98" width="2.25" height="1.43" fill="#DA70D6"/><rect x="927.98" y="220.90" width="2.25" height="1.90" fill="#FFCCCC"/><rect x="927.98" y="222.80" width="2.25" height="1.90" fill="#275317"/><rect x="927.98" y="211.55" width="2.25" height="1.43" fill="#00B0F0"/><rect x="927.98" y="224.70" width="2.25" height="26.15" fill="#D9D9D9"/><rect x="931.43" y="212.50" width="2.25" height="8.40" fill="#C00000"/><rect x="931.43" y="211.55" width="2.25" height="0.95" fill="#DA70D6"/><rect x="931.43" y="220.90" width="2.25" height="0.48" fill="#FFCCCC"/><rect x="931.43" y="221.38" width="2.25" height="1.43" fill="#275317"/><rect x="931.43" y="209.65" width="2.25" height="1.90" fill="#00B0F0"/><rect x="931.43" y="222.80" width="2.25" height="28.05" fill="#D9D9D9"/><rect x="934.87" y="212.82" width="2.25" height="8.08" fill="#C00000"/><rect x="934.87" y="211.87" width="2.25" height="0.95" fill="#DA70D6"/><rect x="934.87" y="220.90" width="2.25" height="1.43" fill="#275317"/><rect x="934.87" y="209.97" width="2.25" height="1.90" fill="#00B0F0"/><rect x="934.87" y="222.33" width="2.25" height="23.77" fill="#D9D9D9"/><rect x="938.32" y="215.83" width="2.25" height="5.07" fill="#C00000"/><rect x="938.32" y="213.29" width="2.25" height="2.54" fill="#DA70D6"/><rect x="938.32" y="220.90" width="2.25" height="1.43" fill="#275317"/><rect x="938.32" y="210.76" width="2.25" height="2.54" fill="#00B0F0"/><rect x="938.32" y="222.33" width="2.25" height="16.80" fill="#D9D9D9"/><rect x="941.76" y="217.73" width="2.25" height="3.17" fill="#C00000"/><rect x="941.76" y="216.94" width="2.25" height="0.79" fill="#DA70D6"/><rect x="941.76" y="220.90" width="2.25" height="2.22" fill="#275317"/><rect x="941.76" y="215.35" width="2.25" height="1.58" fill="#00B0F0"/><rect x="941.76" y="223.12" width="2.25" height="16.48" fill="#D9D9D9"/><rect x="945.21" y="215.83" width="2.25" height="5.07" fill="#C00000"/><rect x="945.21" y="215.04" width="2.25" height="0.79" fill="#DA70D6"/><rect x="945.21" y="220.90" width="2.25" height="1.74" fill="#FFCCCC"/><rect x="945.21" y="222.64" width="2.25" height="1.90" fill="#275317"/><rect x="945.21" y="213.77" width="2.25" height="1.27" fill="#00B0F0"/><rect x="945.21" y="224.54" width="2.25" height="21.23" fill="#D9D9D9"/><rect x="948.66" y="214.40" width="2.25" height="6.50" fill="#C00000"/><rect x="948.66" y="212.98" width="2.25" height="1.43" fill="#DA70D6"/><rect x="948.66" y="220.90" width="2.25" height="4.12" fill="#FFCCCC"/><rect x="948.66" y="225.02" width="2.25" height="1.74" fill="#275317"/><rect x="948.66" y="211.07" width="2.25" height="1.90" fill="#00B0F0"/><rect x="948.66" y="226.76" width="2.25" height="12.36" fill="#D9D9D9"/><rect x="952.11" y="218.05" width="2.25" height="2.85" fill="#C00000"/><rect x="952.11" y="220.90" width="2.25" height="4.44" fill="#FFCCCC"/><rect x="952.11" y="225.34" width="2.25" height="1.43" fill="#275317"/><rect x="952.11" y="216.94" width="2.25" height="1.11" fill="#00B0F0"/><rect x="952.11" y="226.76" width="2.25" height="22.19" fill="#D9D9D9"/><rect x="955.55" y="211.39" width="2.25" height="9.51" fill="#C00000"/><rect x="955.55" y="210.60" width="2.25" height="0.79" fill="#DA70D6"/><rect x="955.55" y="220.90" width="2.25" height="2.85" fill="#FFCCCC"/><rect x="955.55" y="223.75" width="2.25" height="1.74" fill="#275317"/><rect x="955.55" y="209.01" width="2.25" height="1.58" fill="#00B0F0"/><rect x="955.55" y="225.50" width="2.25" height="14.90" fill="#D9D9D9"/></g>
<line x1="79.5" y1="220.9" x2="958.4" y2="220.9" stroke="#595959" stroke-width="0.8"/>
<line x1="79.5" y1="94" x2="79.5" y2="379.2" stroke="#262626" stroke-width="1.1"/>
<polyline points="81.22,216.46 84.67,202.68 88.12,205.53 91.56,188.89 95.01,193.96 98.46,201.25 101.90,206.32 105.35,213.61 108.80,208.54 112.24,209.49 115.69,209.97 119.14,207.43 122.58,215.83 126.03,193.48 129.48,215.83 132.92,210.44 136.37,212.50 139.82,210.76 143.26,208.54 146.71,210.76 150.16,213.13 153.60,213.61 157.05,214.40 160.50,208.54 163.94,202.68 167.39,227.87 170.84,207.75 174.28,207.11 177.73,215.35 181.18,216.30 184.62,212.98 188.07,211.07 191.52,211.87 194.96,212.66 198.41,213.13 201.86,207.91 205.30,227.71 208.75,180.97 212.20,215.99 215.64,218.21 219.09,206.48 222.54,201.09 225.98,202.20 229.43,201.41 232.88,200.77 236.32,200.46 239.77,197.45 243.22,200.77 246.66,193.17 250.11,213.77 253.56,201.41 257.00,203.31 260.45,211.71 263.90,215.04 267.34,211.23 270.79,215.99 274.24,219.32 277.68,227.71 281.13,225.34 284.58,223.44 288.02,212.66 291.47,243.40 294.92,236.11 298.36,229.77 301.81,231.20 305.26,227.56 308.70,229.30 312.15,223.28 315.60,219.63 319.04,208.38 322.49,205.85 325.94,203.31 329.38,216.46 332.83,172.57 336.28,195.07 339.72,202.36 343.17,196.34 346.62,202.36 350.06,196.50 353.51,198.24 356.96,198.08 360.40,190.95 363.85,196.81 367.30,195.86 370.74,183.50 374.19,212.98 377.64,188.10 381.08,185.56 384.53,187.15 387.98,185.40 391.42,185.24 394.87,188.10 398.32,196.50 401.76,196.81 405.21,194.75 408.66,195.07 412.10,206.48 415.55,205.05 419.00,200.93 422.44,208.22 425.89,210.92 429.34,209.01 432.78,219.47 436.23,216.15 439.68,208.06 443.12,216.15 446.57,208.86 450.02,208.38 453.46,206.00 456.91,186.04 460.36,205.53 463.80,187.62 467.25,199.82 470.70,198.24 474.14,204.89 477.59,209.01 481.04,212.98 484.48,210.12 487.93,206.95 491.38,209.81 494.82,195.70 498.27,223.44 501.72,224.23 505.16,237.86 508.61,228.82 512.06,232.63 515.50,228.67 518.95,215.99 522.40,212.18 525.84,217.57 529.29,212.50 532.74,225.65 536.18,243.09 539.63,195.54 543.08,222.48 546.52,219.79 549.97,216.94 553.42,217.26 556.86,220.11 560.31,223.59 563.76,227.08 567.20,221.69 570.65,228.19 574.10,229.62 577.54,227.56 580.99,249.58 584.44,234.85 587.88,230.73 591.33,233.10 594.78,233.58 598.22,232.31 601.67,238.65 605.12,228.51 608.56,225.34 612.01,229.46 615.46,225.81 618.90,223.59 622.35,230.57 625.80,216.78 629.24,220.90 632.69,220.11 636.14,220.11 639.58,213.93 643.03,215.35 646.48,212.18 649.92,214.40 653.37,209.97 656.82,213.29 660.26,217.26 663.71,175.74 667.16,204.89 670.60,203.47 674.05,203.15 677.50,204.89 680.94,211.39 684.39,209.17 687.84,217.26 691.28,212.98 694.73,218.52 698.18,220.58 701.62,210.12 705.07,237.22 708.52,222.96 711.96,228.35 715.41,224.23 718.86,235.16 722.30,241.66 725.75,260.68 729.20,253.70 732.64,262.89 736.09,262.10 739.54,254.65 742.98,257.03 746.43,294.91 749.88,290.63 753.32,280.33 756.77,274.62 760.22,261.47 763.66,258.46 767.11,242.45 770.56,242.13 774.00,235.16 777.45,228.35 780.90,242.45 784.34,242.77 787.79,171.30 791.24,187.62 794.68,202.20 798.13,207.91 801.58,214.56 805.02,219.63 808.47,205.53 811.92,211.71 815.36,206.48 818.81,214.24 822.26,215.99 825.70,218.21 829.15,249.11 832.60,247.68 836.04,208.70 839.49,228.35 842.94,228.03 846.38,220.11 849.83,225.34 853.28,222.80 856.72,217.57 860.17,228.67 863.62,222.80 867.06,212.66 870.51,174.47 873.96,159.10 877.40,199.67 880.85,194.59 884.30,193.80 887.74,199.03 891.19,203.47 894.64,205.05 898.08,215.99 901.53,202.04 904.98,213.77 908.42,222.80 911.87,220.27 915.32,231.68 918.76,246.57 922.21,241.34 925.66,239.12 929.10,241.50 932.55,239.60 936.00,235.16 939.44,228.98 942.89,234.05 946.34,238.65 949.78,229.30 953.23,244.99 956.68,228.51" fill="none" stroke="#1B4367" stroke-width="2.9" stroke-linejoin="round" stroke-linecap="round"/>
<text transform="translate(88.12,434.5) rotate(-90) scale(1,1.13)" font-size="19" fill="#000">2004</text>
<text transform="translate(129.48,434.5) rotate(-90) scale(1,1.13)" font-size="19" fill="#000">2005</text>
<text transform="translate(170.84,434.5) rotate(-90) scale(1,1.13)" font-size="19" fill="#000">2006</text>
<text transform="translate(212.20,434.5) rotate(-90) scale(1,1.13)" font-size="19" fill="#000">2007</text>
<text transform="translate(253.56,434.5) rotate(-90) scale(1,1.13)" font-size="19" fill="#000">2008</text>
<text transform="translate(294.92,434.5) rotate(-90) scale(1,1.13)" font-size="19" fill="#000">2009</text>
<text transform="translate(336.28,434.5) rotate(-90) scale(1,1.13)" font-size="19" fill="#000">2010</text>
<text transform="translate(377.64,434.5) rotate(-90) scale(1,1.13)" font-size="19" fill="#000">2011</text>
<text transform="translate(419.00,434.5) rotate(-90) scale(1,1.13)" font-size="19" fill="#000">2012</text>
<text transform="translate(460.36,434.5) rotate(-90) scale(1,1.13)" font-size="19" fill="#000">2013</text>
<text transform="translate(501.72,434.5) rotate(-90) scale(1,1.13)" font-size="19" fill="#000">2014</text>
<text transform="translate(543.08,434.5) rotate(-90) scale(1,1.13)" font-size="19" fill="#000">2015</text>
<text transform="translate(584.44,434.5) rotate(-90) scale(1,1.13)" font-size="19" fill="#000">2016</text>
<text transform="translate(625.80,434.5) rotate(-90) scale(1,1.13)" font-size="19" fill="#000">2017</text>
<text transform="translate(667.16,434.5) rotate(-90) scale(1,1.13)" font-size="19" fill="#000">2018</text>
<text transform="translate(708.52,434.5) rotate(-90) scale(1,1.13)" font-size="19" fill="#000">2019</text>
<text transform="translate(749.88,434.5) rotate(-90) scale(1,1.13)" font-size="19" fill="#000">2020</text>
<text transform="translate(791.24,434.5) rotate(-90) scale(1,1.13)" font-size="19" fill="#000">2021</text>
<text transform="translate(832.60,434.5) rotate(-90) scale(1,1.13)" font-size="19" fill="#000">2022</text>
<text transform="translate(873.96,434.5) rotate(-90) scale(1,1.13)" font-size="19" fill="#000">2023</text>
<text transform="translate(915.32,434.5) rotate(-90) scale(1,1.13)" font-size="19" fill="#000">2024</text>
<text transform="translate(956.68,434.5) rotate(-90) scale(1,1.13)" font-size="19" fill="#000">2025</text>
<rect x="27.3" y="462.3" width="50.8" height="10.4" fill="#C00000"/>
<text transform="translate(82.60,473.20) scale(1.06,1)" font-size="19.4" text-anchor="start" font-weight="normal" fill="#000">Lagged retail sales</text>
<rect x="265.2" y="462.3" width="50.8" height="10.4" fill="#DA70D6"/>
<text transform="translate(320.50,473.20) scale(1.06,1)" font-size="19.4" text-anchor="start" font-weight="normal" fill="#000">Inbound tourism</text>
<rect x="502.5" y="462.3" width="50.8" height="10.4" fill="#B4E5A2"/>
<text transform="translate(557.80,473.20) scale(1.06,1)" font-size="19.4" text-anchor="start" font-weight="normal" fill="#000">Outbound tourism</text>
<rect x="740.2" y="462.3" width="50.8" height="10.4" fill="#FFCCCC"/>
<text transform="translate(795.50,473.20) scale(1.06,1)" font-size="19.4" text-anchor="start" font-weight="normal" fill="#000">RMB/HKD</text>
<rect x="27.3" y="495.9" width="50.8" height="10.4" fill="#275317"/>
<text transform="translate(82.60,507.10) scale(1.06,1)" font-size="19.4" text-anchor="start" font-weight="normal" fill="#000">Inflation</text>
<rect x="265.2" y="495.9" width="50.8" height="10.4" fill="#00B0F0"/>
<text transform="translate(320.50,507.10) scale(1.06,1)" font-size="19.4" text-anchor="start" font-weight="normal" fill="#000">Real wage</text>
<rect x="502.5" y="495.9" width="50.8" height="10.4" fill="#D9D9D9"/>
<text transform="translate(557.80,507.10) scale(1.06,1)" font-size="19.4" text-anchor="start" font-weight="normal" fill="#000">Residuals</text>
<line x1="740.5" y1="501.09999999999997" x2="790.7" y2="501.09999999999997" stroke="#1B4367" stroke-width="2.2"/>
<text transform="translate(795.50,507.10) scale(1.06,1)" font-size="19.4" text-anchor="start" font-weight="normal" fill="#000">Retail sales</text>
<text transform="translate(22.00,534.20) scale(1.04,1)" font-size="16.2" text-anchor="start" font-weight="normal" fill="#000">Source: C&amp;SD; Hong Kong Tourism Board;&#160; HKMA; AMRO staff estimates using an Autoregressive Distributed Lag (ARDL) model</text>
</svg>
</body></html>
